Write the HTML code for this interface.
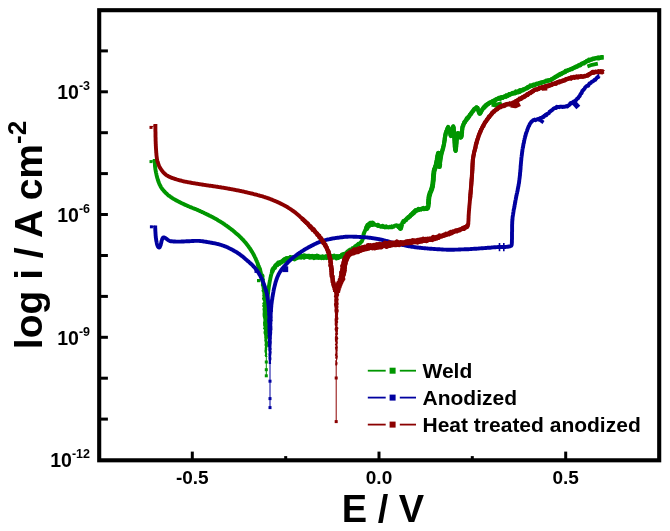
<!DOCTYPE html>
<html lang="en"><head><meta charset="utf-8"><title>Polarization curves</title>
<style>
html,body{margin:0;padding:0;background:#fff;}
body{width:670px;height:531px;overflow:hidden;}
svg{display:block;filter:blur(0.45px);font-family:"Liberation Sans",sans-serif;fill:#000;}
</style></head><body>
<svg width="670" height="531" viewBox="0 0 670 531">
<rect width="670" height="531" fill="#fff"/>
<g id="curves">
<path d="M151,161.6 L155,160" fill="none" stroke="#009600" stroke-width="1"/>
<rect x="149.5" y="160.1" width="3" height="3" fill="#009600"/>
<path d="M154.7,159.0 154.7,159.8 154.7,160.6 154.7,161.4 154.8,162.2 154.8,163.0 154.9,163.8 154.9,164.6 155.0,165.4 155.0,166.2 155.1,167.0 155.2,167.8 155.3,168.6 155.4,169.4 155.6,170.2 155.7,171.0 155.9,171.8 156.0,172.6 156.2,173.4 156.4,174.2 156.5,174.9 156.7,175.7 156.9,176.5 157.1,177.3 157.3,178.1 157.6,178.9 157.8,179.7 158.1,180.5 158.3,181.2 158.6,182.0 158.9,182.8 159.2,183.5 159.5,184.2 159.8,184.9 160.2,185.6 160.5,186.3 160.9,187.0 161.3,187.6 161.8,188.3 162.2,189.0 162.7,189.6 163.3,190.2 163.8,190.9 164.4,191.5 165.0,192.1 165.5,192.7 166.1,193.2 166.7,193.8 167.3,194.3 167.9,194.9 168.5,195.4 169.1,195.9 169.8,196.3 170.4,196.8 171.0,197.2 171.7,197.7 172.4,198.1 173.1,198.6 173.8,199.0 174.5,199.4 175.2,199.8 175.9,200.2 176.6,200.6 177.3,200.9 178.0,201.3 178.8,201.7 179.5,202.1 180.2,202.4 181.0,202.8 181.7,203.2 182.4,203.5 183.1,203.9 183.9,204.2 184.6,204.6 185.3,204.9 186.0,205.2 186.8,205.5 187.5,205.9 188.2,206.2 189.0,206.5 189.7,206.8 190.5,207.1 191.2,207.4 192.0,207.7 192.7,208.0 193.5,208.3 194.2,208.6 195.0,208.9 195.7,209.2 196.5,209.5 197.2,209.8 197.9,210.2 198.7,210.5 199.4,210.8 200.1,211.2 200.9,211.5 201.6,211.8 202.3,212.2 203.1,212.5 203.8,212.8 204.5,213.2 205.2,213.5 206.0,213.9 206.7,214.2 207.4,214.6 208.1,214.9 208.9,215.3 209.6,215.7 210.3,216.0 211.0,216.4 211.7,216.7 212.5,217.1 213.2,217.5 213.9,217.9 214.6,218.3 215.3,218.6 216.0,219.0 216.7,219.4 217.4,219.8 218.1,220.3 218.7,220.7 219.4,221.1 220.1,221.5 220.8,221.9 221.5,222.4 222.2,222.8 222.8,223.2 223.5,223.7 224.2,224.1 224.8,224.6 225.5,225.1 226.2,225.5 226.8,226.0 227.5,226.4 228.1,226.9 228.8,227.4 229.4,227.9 230.1,228.4 230.7,228.8 231.3,229.3 232.0,229.8 232.6,230.3 233.2,230.8 233.8,231.3 234.5,231.8 235.1,232.4 235.7,232.9 236.3,233.4 236.9,233.9 237.6,234.5 238.2,235.0 238.7,235.6 239.3,236.1 239.9,236.7 240.5,237.2 241.1,237.8 241.6,238.4 242.2,238.9 242.7,239.5 243.3,240.1 243.8,240.7 244.3,241.3 244.9,241.9 245.4,242.5 245.9,243.1 246.4,243.8 246.9,244.4 247.4,245.1 247.9,245.7 248.4,246.4 248.8,247.0 249.3,247.7 249.8,248.3 250.2,249.0 250.7,249.7 251.1,250.3 251.5,251.0 251.9,251.7 252.4,252.4 252.8,253.1 253.2,253.8 253.6,254.5 253.9,255.2 254.3,255.9 254.7,256.6 255.0,257.4 255.4,258.1 255.7,258.8 256.0,259.5 256.3,260.3 256.7,261.0 257.0,261.8 257.3,262.5 257.6,263.2 257.9,264.0 257.8,264.7 258.3,265.5 258.9,266.3 258.3,267.0 259.5,267.8 259.1,268.5 260.1,269.3 260.2,270.1 260.3,270.8 260.6,271.6 260.7,272.4 260.9,273.1 260.6,273.9 261.5,274.7 262.4,275.5 262.6,276.2 262.5,277.0 262.4,277.8 262.0,278.6 263.0,279.4 262.5,280.2 262.6,281.0 262.7,281.8 263.0,282.6 262.9,283.4 263.1,284.2 262.8,285.0 263.2,285.8 264.4,286.6 263.5,287.4 263.6,288.2 264.0,289.0 264.1,289.8 263.5,290.6 263.9,291.4 264.5,292.2 264.3,293.0 264.3,293.8 265.0,294.6 264.2,295.4 264.6,296.2 264.4,297.0 265.3,297.8 264.0,298.6 264.5,299.4 264.7,300.2 265.2,301.0 265.2,301.8 265.6,302.6 264.5,303.4 265.5,304.2 265.1,305.0" fill="none" stroke="#009600" stroke-width="3.9" stroke-linejoin="round" stroke-linecap="butt"/>
<path d="M267.0,305.0 267.0,304.4 267.1,303.8 267.1,303.2 267.2,302.6 267.2,302.0 267.2,301.4 267.3,300.8 267.3,300.2 267.4,299.6 267.4,299.0 267.5,298.4 267.6,297.8 267.6,297.2 267.7,296.6 267.7,296.0 267.8,295.4 267.9,294.8 267.9,294.2 268.0,293.6 268.1,293.0 268.1,292.4 268.2,291.8 268.3,291.2 268.3,290.6 268.4,290.0 268.5,289.4 268.6,288.9 268.7,288.3 268.7,287.7 268.8,287.1 268.9,286.5 269.0,285.9 269.1,285.3 269.2,284.7 269.3,284.1 269.4,283.5 269.5,282.9 269.6,282.3 269.7,281.7 269.8,281.1 269.9,280.5 270.0,280.0 270.2,279.4 270.3,278.8 270.4,278.2 270.5,277.6 270.7,277.0 270.8,276.4 270.9,275.8 271.1,275.2 271.2,274.6 271.4,274.1 271.5,273.5 271.7,272.9 271.9,272.3 272.1,271.8 272.3,271.2 272.5,270.7 272.8,270.1 273.0,269.6 273.4,269.1 273.7,268.5 274.0,268.0 274.4,267.5 274.7,267.1 275.1,266.6 275.5,266.2 275.9,265.7 276.3,265.3 276.8,265.1 277.3,264.3 277.7,263.5 278.2,263.5 278.7,262.7 279.2,263.1 279.7,263.7 280.2,262.1 280.7,261.7 281.3,262.2 281.8,261.8 282.3,261.4 282.9,260.4 283.4,260.7 284.0,261.0 284.5,259.3 285.1,259.7 285.7,258.5 286.2,258.7 286.8,258.1 287.4,259.1 287.9,258.2 288.5,259.2 289.1,259.0 289.7,258.6 290.3,256.9 290.9,258.1 291.5,258.4 292.1,258.4 292.7,257.2 293.3,257.8 293.9,257.4 294.5,257.4 295.0,258.6 295.6,257.2 296.2,257.6 296.8,258.2 297.4,257.0 298.0,257.2 298.6,257.3 299.2,257.1 299.8,256.1 300.4,256.9 301.0,257.7 301.6,255.6 302.2,257.2 302.8,256.6 303.4,256.0 304.0,257.8 304.6,256.9 305.2,255.6 305.8,256.5 306.4,256.8 307.0,256.3 307.6,256.9 308.2,256.4 308.8,256.9 309.4,257.5 310.0,256.1 310.6,256.7 311.2,256.3 311.8,256.7 312.4,255.8 313.0,256.3 313.6,256.6 314.2,257.4 314.8,257.6 315.4,255.9 316.0,256.3 316.6,257.4 317.2,255.5 317.8,256.6 318.4,256.9 319.0,257.9 319.6,257.5 320.2,256.8 320.8,256.7 321.4,256.8 322.0,258.1 322.6,256.7 323.2,256.8 323.8,257.2 324.4,256.9 325.0,256.9 325.6,256.2 326.2,257.0 326.8,256.7 327.4,257.8 328.0,257.5 328.6,257.0 329.2,257.5 329.8,256.8 330.4,257.7 331.0,257.0 331.6,257.4 332.2,256.1 332.8,257.2 333.4,255.8 334.0,255.6 334.6,256.8 335.2,256.4 335.8,257.1 336.4,258.6 337.0,256.4 337.6,256.4 338.2,256.9 338.8,257.0 339.4,256.3 340.0,256.2 340.5,256.6 341.1,256.3 341.6,255.1 342.2,255.5 342.7,255.3 343.2,254.2 343.8,254.9 344.3,253.7 344.8,254.7 345.3,253.7 345.8,253.3 346.3,252.7 346.8,252.6 347.3,251.4 347.8,251.5 348.3,251.8 348.8,250.4 349.3,251.4 349.8,249.8 350.3,250.6 350.8,249.6 351.3,249.9 351.8,249.3 352.3,248.2 352.7,249.1 353.2,248.8 353.7,247.8 354.2,247.3 354.7,247.0 355.1,246.3 355.6,246.8 356.1,245.7 356.6,245.6 357.1,244.9 357.6,244.6 358.2,243.9 358.7,244.7 359.2,243.7 359.7,243.8 360.2,243.0 360.7,242.3 361.1,242.1 361.5,241.5 361.8,241.4 362.1,240.7 362.3,240.3 362.4,239.3 362.6,239.0 362.7,239.5 362.9,237.9 363.0,237.1 363.1,237.1 363.2,237.0 363.3,235.1 363.5,235.0 363.6,234.2 363.8,233.1 364.0,233.7 364.2,232.8 364.4,232.2 364.6,231.3 364.9,231.3 365.1,230.3 365.4,229.9 365.7,229.0 366.0,228.4 366.4,229.1 366.7,227.8 367.0,227.6 367.4,226.9 367.8,226.2 368.2,225.6 368.6,225.5 369.1,224.6 369.5,224.3 370.0,224.0 370.4,224.3 370.9,223.9 371.4,223.8 371.9,223.4 372.5,223.1 373.0,224.3 373.6,224.4 374.2,224.1 374.8,224.5 375.4,224.8 376.0,225.0 376.6,225.3 377.2,224.9 377.8,225.9 378.4,224.9 379.0,226.0 379.6,226.0 380.2,226.3 380.8,226.9 381.4,226.8 382.0,225.8 382.6,225.7 383.2,227.0 383.8,226.3 384.4,226.9 384.9,227.4 385.5,226.4 386.1,226.3 386.7,227.4 387.3,227.4 387.9,227.3 388.5,227.5 389.1,227.1 389.7,226.8 390.3,227.3 390.9,226.9 391.5,226.4 392.1,227.2 392.8,226.8 393.4,226.8 394.0,225.9 394.6,225.9 395.2,225.5 395.7,225.4 396.3,225.8 396.8,225.2 397.3,225.7 397.8,225.7 398.3,226.8 398.8,225.8 399.2,227.4 399.6,227.6 400.0,228.0 400.3,227.5 400.6,227.8 400.8,227.8 401.0,226.7 401.1,226.1 401.4,225.2 401.6,225.3 401.9,224.3 402.2,222.8 402.6,223.0 402.9,222.0 403.3,220.9 403.7,221.7 404.1,222.1 404.5,221.1 405.0,220.1 405.4,219.8 405.9,220.3 406.3,219.4 406.8,219.0 407.3,218.5 407.7,218.1 408.2,218.1 408.6,217.6 409.0,217.0 409.5,216.0 409.9,216.3 410.4,215.3 410.8,215.7 411.3,214.2 411.7,214.3 412.2,213.9 412.7,212.9 413.1,213.9 413.6,213.4 414.1,212.1 414.6,212.3 415.1,211.7 415.6,210.0 416.1,211.0 416.6,210.5 417.1,210.3 417.6,209.5 418.1,209.7 418.6,209.5 419.2,209.9 419.7,209.4 420.4,209.1 421.1,209.6 421.8,208.6 422.5,208.6 423.3,207.8 424.0,209.3 424.8,208.9 425.4,208.8 426.1,208.6 426.6,208.2 427.1,208.2 427.5,207.8 427.8,207.7 428.0,207.6 428.1,208.0 428.2,207.3 428.3,206.6 428.3,205.9 428.4,205.4 428.4,205.8 428.5,204.7 428.5,203.8 428.5,202.9 428.6,201.9 428.6,201.6 428.7,201.3 428.7,200.0 428.7,199.4 428.8,198.7 428.9,198.1 428.9,196.7 429.0,196.7 429.1,195.9 429.2,196.1 429.4,194.7 429.6,194.8 429.8,194.6 430.0,193.2 430.2,192.5 430.4,192.3 430.6,191.7 430.9,190.7 431.1,190.8 431.3,190.9 431.5,189.3 431.8,188.8 431.9,187.8 432.1,187.8 432.3,186.6 432.4,186.1 432.5,186.5 432.6,185.0 432.7,185.3 432.8,184.9 432.9,183.7 432.9,183.3 433.0,183.3 433.0,181.7 433.1,180.9 433.2,180.0 433.2,180.0 433.3,180.1 433.3,179.2 433.3,177.8 433.4,177.2 433.4,176.7 433.5,176.5 433.5,175.7 433.6,175.3 433.7,174.7 433.7,173.8 433.8,173.3 433.9,172.9 433.9,172.1 434.0,171.8 434.1,171.8 434.2,170.7 434.3,169.9 434.5,168.5 434.7,168.9 434.9,167.3 435.2,167.0 435.4,167.4 435.6,166.8 435.8,165.8 436.0,164.5 436.2,164.5 436.3,163.6 436.5,163.5 436.6,163.5 436.8,161.8 436.9,160.6 437.1,159.6 437.2,159.3 437.3,158.5 437.5,157.3 437.6,157.2 437.7,155.9 437.8,156.3 438.0,155.7 438.1,155.2 438.2,154.1 438.2,154.2 438.3,153.6 438.4,153.3 438.5,153.3 438.5,152.9 438.6,153.0 438.7,154.3 438.7,154.4 438.7,155.1 438.8,156.1 438.8,155.7 438.9,156.9 438.9,158.2 438.9,159.2 439.0,159.7 439.0,161.2 439.0,161.7 439.1,161.9 439.1,162.9 439.1,164.4 439.2,164.8 439.2,164.3 439.3,166.2 439.3,166.1 439.4,166.6 439.4,165.8 439.5,165.7 439.6,165.0 439.7,166.3 439.7,164.6 439.8,164.8 439.9,163.2 440.0,162.8 440.1,161.3 440.2,161.1 440.3,160.9 440.4,159.1 440.5,159.4 440.6,158.3 440.8,156.9 440.9,156.5 441.0,155.9 441.1,155.5 441.2,154.7 441.4,154.0 441.5,153.6 441.6,152.7 441.8,152.0 442.0,152.0 442.1,151.8 442.3,150.2 442.4,150.3 442.6,149.4 442.8,148.7 442.9,148.9 443.1,147.7 443.2,148.0 443.4,146.4 443.5,146.4 443.7,145.5 443.8,144.7 443.9,144.7 444.0,143.8 444.1,143.5 444.2,142.6 444.3,141.6 444.4,141.4 444.5,140.9 444.6,140.7 444.7,139.3 444.7,139.0 444.8,137.7 444.9,138.2 445.0,136.8 445.1,135.9 445.2,136.1 445.3,136.0 445.4,134.2 445.5,133.9 445.7,133.4 445.8,132.7 446.0,132.7 446.3,131.4 446.5,130.7 446.8,130.6 447.0,129.3 447.3,129.2 447.6,128.0 447.8,127.4 448.1,126.8 448.3,128.4 448.5,127.4 448.7,127.9 448.9,128.2 449.1,128.9 449.3,129.6 449.5,131.2 449.7,130.7 449.9,131.3 450.1,132.4 450.3,133.0 450.4,134.7 450.6,135.3 450.8,134.9 450.9,134.9 451.1,135.3 451.3,135.8 451.4,133.5 451.6,134.4 451.8,133.0 452.0,133.2 452.1,131.4 452.3,130.9 452.4,129.4 452.6,128.9 452.7,129.2 452.9,128.3 453.0,127.2 453.1,126.7 453.2,126.1 453.3,126.8 453.4,127.0 453.4,127.2 453.5,127.5 453.6,127.4 453.7,128.3 453.7,128.8 453.8,129.9 453.9,130.7 453.9,130.5 454.0,130.9 454.0,131.9 454.1,132.5 454.1,133.2 454.2,134.3 454.2,134.7 454.3,136.3 454.3,136.9 454.4,138.0 454.4,138.7 454.5,139.3 454.5,140.1 454.6,141.3 454.6,142.0 454.7,143.2 454.7,144.0 454.8,144.2 454.8,145.6 454.8,145.7 454.9,146.7 454.9,147.5 455.0,147.3 455.1,148.8 455.1,149.4 455.2,149.7 455.2,149.9 455.3,150.2 455.4,150.2 455.4,150.6 455.5,150.6 455.6,150.8 455.6,150.0 455.7,150.4 455.8,150.0 455.8,149.4 455.9,148.7 456.0,148.6 456.0,146.9 456.1,147.1 456.2,146.2 456.2,145.4 456.3,144.6 456.4,143.3 456.5,142.6 456.5,142.1 456.6,141.1 456.7,140.1 456.8,138.5 456.9,138.6 457.0,138.1 457.1,137.3 457.2,136.3 457.3,134.9 457.5,135.4 457.6,134.5 457.7,133.0 457.9,134.1 458.1,133.1 458.2,133.1 458.5,133.6 458.8,135.0 459.3,134.9 459.7,135.9 460.1,137.2 460.5,137.7 460.8,137.2 461.0,137.2 461.1,136.6 461.3,136.6 461.4,136.7 461.5,136.2 461.6,135.6 461.7,135.3 461.7,133.9 461.8,133.5 461.9,133.1 462.0,132.2 462.0,131.7 462.1,130.6 462.2,129.5 462.3,129.0 462.4,127.7 462.5,126.7 462.6,127.1 462.8,126.3 463.0,125.9 463.2,124.4 463.4,124.5 463.7,123.9 463.9,123.2 464.2,122.0 464.6,122.4 464.9,122.4 465.2,121.7 465.6,120.7 465.9,120.5 466.3,120.3 466.6,118.2 467.0,118.9 467.4,118.7 467.7,118.3 468.1,118.3 468.4,117.5 468.8,116.6 469.2,116.1 469.6,115.7 470.0,114.6 470.4,114.2 470.9,114.0 471.3,113.9 471.7,112.4 472.2,111.9 472.6,111.4 473.1,111.4 473.5,110.3 473.9,110.5 474.4,108.9 474.8,108.9 475.2,108.6 475.6,108.7 476.0,108.6 476.3,107.3 476.7,107.4 477.0,108.0 477.3,107.7 477.6,107.7 477.9,109.4 478.1,109.9 478.4,110.7 478.6,111.1 478.9,112.5 479.2,112.5 479.4,113.5 479.7,112.7 480.0,112.6 480.4,112.9 480.7,112.1 481.0,112.2 481.3,111.5 481.7,110.4 482.0,110.2 482.4,109.4 482.8,109.3 483.2,108.0 483.5,107.5 483.9,107.7 484.4,107.8 484.8,107.3 485.3,106.0 485.7,105.7 486.2,105.9 486.7,104.9 487.2,104.1 487.7,104.3 488.2,104.1 488.8,103.2 489.3,102.5 489.8,102.3 490.3,102.9 490.8,102.0 491.3,102.0 491.9,101.8 492.4,101.7 492.9,101.0 493.5,101.1 494.0,100.2 494.5,100.2 495.1,99.6 495.6,100.4 496.2,99.6 496.7,99.0 497.3,99.0 497.8,98.8 498.4,99.0 498.9,97.7 499.5,97.8 500.0,97.8 500.6,98.9 501.2,98.0 501.7,97.3 502.3,97.5 502.9,97.9 503.4,96.7 504.0,96.4 504.6,96.9 505.1,96.4 505.7,96.3 506.3,95.6 506.8,96.4 507.4,96.2 508.0,95.4 508.6,95.3 509.1,93.9 509.7,94.9 510.3,94.3 510.8,94.4 511.4,94.3 512.0,93.6 512.5,92.8 513.1,93.5 513.7,92.9 514.2,92.8 514.8,92.5 515.4,92.5 515.9,91.4 516.5,92.8 517.1,92.1 517.6,92.3 518.2,92.5 518.8,91.4 519.3,90.4 519.9,90.6 520.5,90.8 521.0,90.6 521.6,90.4 522.1,90.2 522.7,89.9 523.2,89.7 523.8,89.4 524.3,89.2 524.9,88.9 525.4,88.7 526.0,88.4 526.5,88.2 527.1,87.9 527.6,87.6 528.1,87.4 528.7,87.1 529.2,86.8 529.8,86.6 530.3,86.3 530.9,86.1 531.4,85.8 532.0,85.6 532.5,85.4 533.1,85.1 533.6,84.9 534.2,84.7 534.8,84.5 535.3,84.3 535.9,84.2 536.5,84.0 537.0,83.8 537.6,83.6 538.2,83.5 538.8,83.3 539.3,83.1 539.9,83.0 540.5,82.8 541.1,82.6 541.7,82.5 542.3,82.3 542.8,82.2 543.4,82.0 544.0,81.8 544.6,81.6 545.1,81.5 545.7,81.3 546.3,81.1 546.9,80.9 547.4,80.8 548.0,80.6 548.6,80.4 549.2,80.2 549.7,80.0 550.3,79.8 550.8,79.6 551.4,79.3 551.9,79.1 552.4,78.8 553.0,78.5 553.5,78.3 554.0,78.0 554.6,77.7 555.1,77.4 555.6,77.1 556.1,76.8 556.6,76.5 557.2,76.1 557.7,75.8 558.2,75.5 558.7,75.2 559.2,74.9 559.8,74.6 560.3,74.3 560.8,74.0 561.3,73.7 561.9,73.4 562.4,73.1 562.9,72.8 563.5,72.6 564.0,72.3 564.5,72.1 565.1,71.8 565.6,71.5 566.2,71.3 566.7,71.0 567.3,70.8 567.8,70.5 568.4,70.3 568.9,70.1 569.5,69.8 570.0,69.6 570.6,69.3 571.1,69.1 571.7,68.8 572.2,68.6 572.8,68.4 573.3,68.1 573.9,67.9 574.4,67.6 575.0,67.4 575.5,67.1 576.0,66.9 576.6,66.6 577.1,66.3 577.7,66.1 578.2,65.8 578.7,65.5 579.3,65.2 579.8,65.0 580.3,64.7 580.9,64.4 581.4,64.1 581.9,63.8 582.5,63.5 583.0,63.2 583.5,63.0 584.1,62.7 584.6,62.4 585.1,62.1 585.7,61.9 586.2,61.6 586.8,61.3 587.3,61.1 587.8,60.9 588.4,60.6 588.9,60.4 589.5,60.2 590.1,60.0 590.6,59.8 591.2,59.6 591.8,59.4 592.3,59.2 592.9,59.0 593.5,58.8 594.1,58.6 594.7,58.5 595.2,58.4 595.8,58.2 596.4,58.2 597.0,58.1 597.6,58.0 598.2,57.9 598.8,57.8 599.4,57.8 600.0,57.7 600.6,57.6 601.2,57.6 601.8,57.6 602.4,57.5 603.0,57.5 603.6,57.5" fill="none" stroke="#009600" stroke-width="3.9" stroke-linejoin="round" stroke-linecap="butt"/>
<path d="M272.1,271.5 272.3,271.4 272.5,270.3 272.8,269.3 273.0,269.5 273.4,268.5 273.7,268.3 274.0,268.2 274.4,267.7 274.7,267.7 275.1,266.5 275.5,265.6 275.9,265.4 276.3,265.0 276.8,264.4 277.3,264.7 277.7,263.9 278.2,263.0 278.7,263.7 279.2,263.1 279.7,262.9 280.2,262.5 280.7,262.4 281.3,261.9 281.8,262.1 282.3,261.5 282.9,261.2 283.4,260.9 284.0,259.9 284.5,260.2 285.1,259.9 285.7,259.9 286.2,259.0 286.8,260.1 287.4,259.3 287.9,258.6 288.5,258.3 289.1,258.7 289.7,258.7 290.3,258.3 290.9,258.6 291.5,258.2 292.1,258.5 292.7,257.9 293.3,258.1 293.9,258.4 294.5,259.0 295.0,257.5 295.6,257.6 296.2,257.3 296.8,257.9 297.4,257.0 298.0,257.1 298.6,257.2 299.2,256.7 299.8,256.6 300.4,256.7 301.0,255.9 301.6,256.1 302.2,256.4 302.8,256.6 303.4,256.4 304.0,255.7 304.6,256.2 305.2,256.7 305.8,256.6 306.4,256.4 307.0,256.1 307.6,256.7 308.2,256.2 308.8,256.0 309.4,256.2 310.0,257.1 310.6,256.7 311.2,257.1 311.8,256.4 312.4,257.0 313.0,256.5 313.6,256.7 314.2,257.8 314.8,257.1 315.4,256.6 316.0,256.8 316.6,257.0 317.2,257.4 317.8,256.8 318.4,256.3 319.0,256.9 319.6,257.0 320.2,257.0 320.8,257.5 321.4,257.1 322.0,257.3 322.6,256.6 323.2,257.3 323.8,257.8 324.4,257.3 325.0,257.1 325.6,257.1 326.2,257.7 326.8,256.6 327.4,257.0 328.0,257.2 328.6,257.3 329.2,256.8 329.8,257.1 330.4,256.9 331.0,257.0 331.6,256.9 332.2,256.5 332.8,257.0 333.4,257.4 334.0,256.6 334.6,256.9 335.2,257.3 335.8,256.6 336.4,257.1 337.0,256.5 337.6,257.3 338.2,257.7 338.8,257.4 339.4,256.4 340.0,256.6 340.5,256.2 341.1,256.0 341.6,256.4 342.2,255.0 342.7,255.7 343.2,255.0 343.8,255.2 344.3,254.4 344.8,253.7" fill="none" stroke="#009600" stroke-width="4.6" stroke-linejoin="round" stroke-linecap="butt"/>
<path d="M366.0,229.0 366.4,228.7 366.7,228.0 367.0,227.6 367.4,226.8 367.8,225.7 368.2,226.1 368.6,225.5 369.1,224.8 369.5,224.3 370.0,224.3 370.4,223.6 370.9,223.4 371.4,223.6 371.9,224.0 372.5,223.3 373.0,224.2 373.6,223.8" fill="none" stroke="#009600" stroke-width="5.5" stroke-linejoin="round" stroke-linecap="butt"/>
<path d="M398.3,225.5 398.8,226.8 399.2,227.0 399.6,227.2 400.0,227.9 400.3,228.5 400.6,228.3 400.8,227.3 401.0,226.9 401.1,226.2 401.4,225.1 401.6,224.9 401.9,224.3" fill="none" stroke="#009600" stroke-width="5.0" stroke-linejoin="round" stroke-linecap="butt"/>
<path d="M428.5,204.3 428.5,203.6 428.5,203.1 428.6,202.4 428.6,201.5 428.7,200.8 428.7,200.5 428.7,199.5 428.8,199.0 428.9,198.4 428.9,197.6 429.0,197.5 429.1,196.0 429.2,195.9 429.4,195.0 429.6,195.1 429.8,194.5 430.0,192.8 430.2,192.5 430.4,192.4 430.6,191.9 430.9,191.3 431.1,190.5 431.3,190.1 431.5,189.6 431.8,188.8 431.9,188.6 432.1,187.0 432.3,187.3 432.4,186.2 432.5,186.3 432.6,185.3 432.7,184.5 432.8,184.3 432.9,183.3 432.9,182.7 433.0,181.9 433.0,181.8 433.1,181.4 433.2,180.9 433.2,180.0 433.3,179.7 433.3,178.8 433.3,178.2 433.4,177.7 433.4,177.3 433.5,176.3 433.5,175.7 433.6,175.1 433.7,174.6 433.7,173.7 433.8,173.7 433.9,172.6 433.9,172.3 434.0,171.3 434.1,171.1 434.2,170.5 434.3,169.7 434.5,169.9 434.7,168.8 434.9,168.7 435.2,167.9 435.4,166.8 435.6,166.4 435.8,166.0 436.0,165.3 436.2,164.7 436.3,163.9 436.5,162.7 436.6,162.4 436.8,161.0 436.9,161.0 437.1,159.9 437.2,159.1 437.3,158.5 437.5,157.9 437.6,156.7 437.7,155.9 437.8,155.5 438.0,154.7 438.1,154.5 438.2,154.8 438.2,153.6 438.3,153.9 438.4,153.1 438.5,153.5 438.5,153.3 438.6,153.6 438.7,154.1 438.7,155.0 438.7,155.1 438.8,155.7 438.8,156.1 438.9,157.4 438.9,158.0 438.9,159.2 439.0,159.9 439.0,161.3 439.0,161.1 439.1,162.4 439.1,163.5 439.1,163.9 439.2,164.4 439.2,165.1 439.3,165.2 439.3,165.9 439.4,166.7 439.4,166.3 439.5,165.5 439.6,165.3 439.7,165.0 439.7,165.0 439.8,163.9 439.9,163.3" fill="none" stroke="#009600" stroke-width="4.8" stroke-linejoin="round" stroke-linecap="butt"/>
<path d="M405.4,220.5 405.9,220.0 406.3,219.2 406.8,218.6 407.3,218.1 407.7,217.9 408.2,217.1 408.6,217.5 409.0,216.7 409.5,216.6 409.9,216.6 410.4,216.0 410.8,214.9 411.3,215.0 411.7,214.7 412.2,213.7 412.7,213.2 413.1,213.1 413.6,212.2 414.1,212.8 414.6,211.2 415.1,211.2 415.6,211.1 416.1,210.8 416.6,210.6 417.1,210.4 417.6,210.0 418.1,210.1 418.6,208.9 419.2,209.4 419.7,209.0 420.4,209.1 421.1,209.0 421.8,208.6 422.5,208.6 423.3,208.9 424.0,208.7 424.8,208.3 425.4,209.0 426.1,209.0 426.6,207.8 427.1,208.2 427.5,208.7 427.8,208.0 428.0,207.7 428.1,207.3 428.2,206.9 428.3,206.6 428.3,206.0 428.4,205.9 428.4,204.9 428.5,204.3 428.5,203.4 428.5,203.1 428.6,202.1 428.6,201.6 428.7,201.2 428.7,200.3 428.7,199.6 428.8,198.9 428.9,198.1 428.9,197.4 429.0,196.7 429.1,196.5 429.2,195.3 429.4,195.5 429.6,194.5 429.8,193.7 430.0,193.2 430.2,192.6 430.4,192.3 430.6,191.5 430.9,191.5 431.1,190.3 431.3,189.3 431.5,189.2 431.8,188.2 431.9,188.3 432.1,188.0 432.3,187.3 432.4,186.1 432.5,185.7 432.6,185.9 432.7,184.9 432.8,184.2 432.9,183.9 432.9,183.7 433.0,182.8 433.0,181.8 433.1,181.3 433.2,180.8 433.2,179.8 433.3,179.1 433.3,178.8 433.3,177.9 433.4,177.6 433.4,177.0 433.5,177.1 433.5,175.5 433.6,175.1 433.7,174.5 433.7,174.1 433.8,173.7 433.9,172.6 433.9,171.9 434.0,171.1 434.1,170.7 434.2,170.6 434.3,169.9 434.5,169.0 434.7,168.6 434.9,168.2 435.2,167.8 435.4,166.9 435.6,166.4 435.8,165.4 436.0,165.0 436.2,165.1 436.3,163.3 436.5,163.1 436.6,162.5 436.8,161.6 436.9,160.7 437.1,160.1 437.2,159.3 437.3,158.6 437.5,157.3 437.6,157.1 437.7,156.2 437.8,155.7 438.0,155.3 438.1,154.9 438.2,154.6 438.2,153.8 438.3,154.0 438.4,153.8 438.5,153.7 438.5,153.9 438.6,153.6 438.7,153.9 438.7,154.7 438.7,154.6 438.8,155.7 438.8,156.3 438.9,157.1 438.9,157.6 438.9,158.7 439.0,159.9 439.0,161.0 439.0,161.9 439.1,162.5 439.1,163.2 439.1,163.7 439.2,164.8 439.2,165.1 439.3,165.8 439.3,166.4 439.4,166.0 439.4,165.5 439.5,165.5 439.6,165.1 439.7,164.8 439.7,165.1 439.8,164.2 439.9,163.0 440.0,163.0 440.1,162.4 440.2,161.2 440.3,160.3 440.4,159.6 440.5,159.0 440.6,158.3 440.8,157.8 440.9,157.1 441.0,156.5 441.1,155.9 441.2,155.1 441.4,153.9 441.5,153.7 441.6,153.3 441.8,152.5 442.0,152.3 442.1,151.3 442.3,150.6 442.4,150.7 442.6,149.9 442.8,149.2 442.9,148.8 443.1,148.3 443.2,147.5 443.4,146.0 443.5,146.0 443.7,145.5 443.8,144.7 443.9,144.5 444.0,144.2 444.1,143.1 444.2,142.3 444.3,142.7 444.4,141.3 444.5,140.5 444.6,140.3 444.7,139.8 444.7,138.9 444.8,138.7 444.9,137.7 445.0,137.0 445.1,136.7 445.2,136.3 445.3,135.3 445.4,135.0 445.5,134.3 445.7,134.6 445.8,133.0 446.0,132.9 446.3,131.8 446.5,131.0 446.8,130.5 447.0,129.9 447.3,129.4 447.6,128.5 447.8,127.8 448.1,127.5 448.3,127.7 448.5,127.7 448.7,128.2 448.9,128.4 449.1,129.2 449.3,130.0 449.5,130.4 449.7,130.7 449.9,131.7 450.1,132.4 450.3,134.1 450.4,134.1 450.6,135.3 450.8,135.5 450.9,136.0 451.1,135.8 451.3,135.2 451.4,134.7 451.6,134.2 451.8,133.5 452.0,132.5 452.1,131.8 452.3,131.5 452.4,129.6 452.6,129.4 452.7,128.3 452.9,128.0 453.0,127.6 453.1,127.0 453.2,127.1 453.3,126.5 453.4,127.4 453.4,127.1 453.5,127.7 453.6,127.9 453.7,127.5 453.7,128.5 453.8,129.4 453.9,130.4 453.9,130.6 454.0,131.3 454.0,131.5 454.1,133.2 454.1,134.1 454.2,134.4 454.2,135.1 454.3,135.6 454.3,137.2 454.4,138.7 454.4,139.0 454.5,140.0 454.5,140.7 454.6,141.1 454.6,142.7 454.7,142.8 454.7,143.9 454.8,144.9 454.8,145.8 454.8,146.4 454.9,147.1 454.9,147.4 455.0,147.9 455.1,148.8 455.1,149.1 455.2,149.3 455.2,149.7 455.3,150.2 455.4,150.1 455.4,150.3 455.5,150.3 455.6,150.8 455.6,150.7 455.7,150.9 455.8,149.5 455.8,149.3 455.9,149.2 456.0,148.3 456.0,147.5 456.1,147.4 456.2,146.0 456.2,145.0 456.3,144.1 456.4,143.7 456.5,142.8 456.5,141.4 456.6,140.6 456.7,140.2 456.8,139.4 456.9,138.2 457.0,137.8 457.1,137.0 457.2,135.6 457.3,135.5 457.5,135.1 457.6,134.4 457.7,133.5 457.9,133.8 458.1,134.0 458.2,134.2 458.5,133.3 458.8,135.2 459.3,134.7 459.7,136.0 460.1,136.8 460.5,137.3 460.8,137.3 461.0,136.9 461.1,137.3 461.3,136.7 461.4,135.8 461.5,136.9 461.6,135.7 461.7,135.4 461.7,134.0 461.8,134.0 461.9,133.2 462.0,132.4 462.0,131.2 462.1,130.0 462.2,129.6 462.3,128.2 462.4,127.6 462.5,127.5 462.6,126.6 462.8,126.2 463.0,125.7 463.2,125.8 463.4,125.1 463.7,124.1 463.9,124.0 464.2,122.8 464.6,122.4 464.9,122.3 465.2,121.1 465.6,120.9 465.9,120.1 466.3,120.0 466.6,120.0 467.0,118.8 467.4,118.6 467.7,117.7 468.1,117.2 468.4,116.6 468.8,116.9 469.2,116.7 469.6,115.5 470.0,114.6 470.4,114.4 470.9,113.5 471.3,113.3 471.7,112.5 472.2,112.0 472.6,111.5 473.1,110.6 473.5,110.2 473.9,109.3 474.4,109.3 474.8,108.6 475.2,108.6 475.6,108.1 476.0,108.1 476.3,108.1 476.7,107.4 477.0,107.6 477.3,107.7 477.6,108.6 477.9,109.5 478.1,110.0 478.4,110.4 478.6,111.7 478.9,111.6 479.2,113.1 479.4,112.8 479.7,112.3 480.0,113.8 480.4,113.2 480.7,112.1 481.0,112.0 481.3,111.3 481.7,110.8 482.0,109.7 482.4,109.3 482.8,109.0 483.2,108.3 483.5,108.0 483.9,107.2 484.4,107.5 484.8,106.1 485.3,106.0 485.7,105.0 486.2,104.9 486.7,105.3 487.2,104.3 487.7,104.4 488.2,103.9 488.8,103.3 489.3,103.2 489.8,102.8 490.3,102.5 490.8,102.6 491.3,102.2 491.9,101.6 492.4,101.2 492.9,101.3 493.5,100.9 494.0,100.9 494.5,101.2 495.1,100.4 495.6,99.8 496.2,99.5 496.7,99.1 497.3,98.9 497.8,98.6 498.4,98.5 498.9,98.3 499.5,98.4 500.0,97.9 500.6,97.7 501.2,97.2 501.7,97.9 502.3,97.3 502.9,97.5 503.4,97.0 504.0,97.0 504.6,96.3 505.1,96.4 505.7,96.8 506.3,95.4 506.8,95.9 507.4,95.9 508.0,95.3 508.6,95.2 509.1,95.2 509.7,94.4 510.3,94.5 510.8,93.9 511.4,93.8 512.0,93.6 512.5,93.5 513.1,93.4 513.7,93.3 514.2,92.6 514.8,93.4 515.4,93.0 515.9,92.6 516.5,92.1 517.1,92.0 517.6,92.0 518.2,91.8 518.8,90.9 519.3,91.5 519.9,91.9 520.5,90.2 521.0,90.9 521.6,90.5 522.1,90.1 522.7,90.4 523.2,89.3 523.8,89.5 524.3,89.6 524.9,88.9 525.4,88.6 526.0,88.5 526.5,88.0 527.1,88.4 527.6,87.3 528.1,87.6 528.7,86.7 529.2,87.0 529.8,86.5 530.3,85.5 530.9,86.1 531.4,85.5 532.0,85.4 532.5,85.8 533.1,84.8 533.6,84.6 534.2,85.2 534.8,84.6 535.3,84.8 535.9,84.3 536.5,83.7 537.0,83.8 537.6,84.0 538.2,83.8 538.8,83.3 539.3,83.1 539.9,82.9 540.5,82.6 541.1,83.2 541.7,82.5 542.3,82.0 542.8,82.0 543.4,82.2 544.0,82.0 544.6,81.6 545.1,81.3 545.7,81.3 546.3,80.6 546.9,80.5 547.4,81.0 548.0,80.4 548.6,80.5 549.2,80.6 549.7,80.2 550.3,79.8 550.8,80.2 551.4,79.5 551.9,79.0 552.4,79.0 553.0,78.7 553.5,78.0 554.0,78.0 554.6,77.6 555.1,76.8 555.6,77.0 556.1,76.7 556.6,76.3 557.2,75.6 557.7,75.7 558.2,75.5 558.7,75.2 559.2,74.5 559.8,74.8 560.3,73.9 560.8,73.9 561.3,74.1 561.9,73.2 562.4,73.0 562.9,73.2 563.5,72.5 564.0,72.2 564.5,72.1 565.1,72.1 565.6,70.9 566.2,71.0 566.7,70.7 567.3,70.5 567.8,70.3 568.4,70.0 568.9,70.1 569.5,69.5 570.0,69.6 570.6,69.5 571.1,68.9 571.7,68.9 572.2,69.1 572.8,68.5 573.3,67.9 573.9,67.9 574.4,67.3 575.0,67.5 575.5,67.4 576.0,66.6 576.6,66.5 577.1,66.7 577.7,65.9 578.2,65.9 578.7,65.2 579.3,65.0 579.8,64.8 580.3,65.3 580.9,64.3 581.4,63.9 581.9,63.6 582.5,63.5 583.0,63.4 583.5,63.0 584.1,63.3 584.6,62.5 585.1,62.6 585.7,61.9 586.2,61.8 586.8,60.9 587.3,61.1 587.8,60.8 588.4,60.6 588.9,59.8 589.5,60.5 590.1,59.9 590.6,59.6 591.2,59.5 591.8,59.3 592.3,59.3 592.9,58.6 593.5,58.5 594.1,58.7 594.7,58.5 595.2,58.2 595.8,58.1 596.4,57.9 597.0,58.1 597.6,58.3 598.2,57.6 598.8,58.3 599.4,58.0 600.0,57.6 600.6,57.9 601.2,57.2 601.8,57.0 602.4,57.1 603.0,57.4 603.6,57.4" fill="none" stroke="#009600" stroke-width="4.2" stroke-linejoin="round" stroke-linecap="butt"/>
<path d="M589.2,65.8 592.0,64.8 596.0,64.0" fill="none" stroke="#009600" stroke-width="3.8" stroke-linejoin="round" stroke-linecap="square"/>
<path d="M494.2,104.6 497.0,105.2 499.6,104.4" fill="none" stroke="#009600" stroke-width="5.0" stroke-linejoin="round" stroke-linecap="square"/>
<path d="M262.5,303.0 262.8,304.5 262.0,306.0 263.0,307.5 262.4,309.0 262.7,310.5 262.8,312.0 262.6,313.5 262.6,315.0 262.7,316.5 263.1,318.0 263.4,319.5 263.4,321.0 263.0,322.5 263.1,324.0 263.1,325.5 263.7,327.0 262.9,328.5 264.1,330.0 263.6,331.5 263.5,333.0 264.0,334.5 264.3,336.0 264.2,337.5 264.5,339.0 264.2,340.5 264.7,342.0 264.8,343.5 264.4,345.0 265.0,346.5 264.7,348.0 264.7,349.5 264.4,351.0 264.7,352.5 265.2,354.0 264.6,355.5 265.3,357.0 267.7,357.0 266.8,355.5 267.4,354.0 266.7,352.5 266.8,351.0 267.3,349.5 267.1,348.0 267.9,346.5 267.9,345.0 268.0,343.5 268.1,342.0 267.2,340.5 267.6,339.0 268.6,337.5 268.5,336.0 267.8,334.5 268.1,333.0 268.0,331.5 268.0,330.0 269.2,328.5 268.3,327.0 268.2,325.5 268.9,324.0 268.6,322.5 269.0,321.0 268.2,319.5 269.2,318.0 268.7,316.5 269.2,315.0 268.2,313.5 269.1,312.0 268.8,310.5 269.4,309.0 269.1,307.5 268.4,306.0 269.4,304.5 269.4,303.0Z" fill="#009600" stroke="none"/>
<path d="M266.3,350 L266.3,375.8" fill="none" stroke="#009600" stroke-width="1"/>
<rect x="264.8" y="360.5" width="3" height="3" fill="#009600"/>
<rect x="264.8" y="368.2" width="3" height="3" fill="#009600"/>
<rect x="264.8" y="374.3" width="3" height="3" fill="#009600"/>
<rect x="257.0" y="279.0" width="3.2" height="3.2" fill="#009600"/>
<path d="M151.4,226.8 L155.2,226" fill="none" stroke="#0000a0" stroke-width="1"/>
<rect x="149.9" y="225.3" width="3" height="3" fill="#0000a0"/>
<path d="M155.2,225.5 155.2,226.3 155.2,227.1 155.2,227.9 155.3,228.7 155.3,229.5 155.3,230.3 155.4,231.2 155.4,232.0 155.5,232.8 155.5,233.6 155.6,234.4 155.6,235.2 155.7,236.0 155.8,236.8 155.8,237.6 156.0,238.4 156.1,239.2 156.2,240.0 156.3,240.8 156.5,241.6 156.7,242.4 156.8,243.1 157.0,244.0 157.2,244.8 157.5,245.6 157.8,246.4 158.2,247.0 158.8,247.5 159.4,247.5 159.9,246.9 160.2,246.0 160.6,245.1 160.8,244.4 161.0,243.6 161.2,242.8 161.4,242.0 161.5,241.2 161.8,240.4 162.0,239.7 162.3,238.8 162.7,238.0 163.2,237.4 163.9,237.5 164.7,237.7 165.4,238.0 166.1,238.5 166.7,239.0 167.4,239.6 168.0,240.0 168.7,240.4 169.5,240.8 170.2,241.1 171.0,241.3 171.8,241.3 172.6,241.4 173.4,241.5 174.2,241.5 175.0,241.5 175.8,241.6 176.6,241.6 177.4,241.6 178.3,241.6 179.1,241.6 179.9,241.6 180.7,241.6 181.5,241.5 182.3,241.5 183.1,241.5 183.9,241.5 184.7,241.4 185.5,241.4 186.3,241.3 187.1,241.3 187.9,241.2 188.7,241.2 189.6,241.2 190.4,241.1 191.2,241.1 192.0,241.0 192.8,241.0 193.6,241.0 194.4,240.9 195.2,240.9 196.0,240.9 196.8,240.9 197.6,240.9 198.4,240.9 199.2,240.9 200.0,241.0 200.8,241.1 201.6,241.1 202.4,241.2 203.2,241.3 204.0,241.5 204.8,241.6 205.6,241.7 206.4,241.8 207.2,242.0 208.0,242.1 208.8,242.3 209.6,242.4 210.4,242.6 211.2,242.7 212.0,242.8 212.8,243.0 213.6,243.1 214.4,243.3 215.2,243.4 216.0,243.6 216.8,243.8 217.5,244.0 218.3,244.2 219.1,244.4 219.9,244.6 220.7,244.8 221.4,245.0 222.2,245.3 222.9,245.5 223.7,245.8 224.4,246.1 225.2,246.4 225.9,246.7 226.7,247.0 227.4,247.3 228.2,247.7 228.9,248.0 229.6,248.4 230.4,248.8 231.1,249.1 231.8,249.5 232.5,249.9 233.2,250.3 233.9,250.7 234.6,251.1 235.3,251.5 236.0,251.9 236.7,252.3 237.4,252.7 238.0,253.2 238.7,253.6 239.4,254.1 240.0,254.6 240.7,255.1 241.3,255.6 242.0,256.1 242.6,256.6 243.2,257.1 243.8,257.6 244.5,258.1 245.1,258.7 245.7,259.2 246.3,259.7 246.9,260.2 247.5,260.8 248.2,261.3 248.8,261.8 249.4,262.4 250.0,262.9 250.6,263.5 251.2,264.1 251.8,264.6 252.4,265.2 253.0,265.8 253.5,266.4 254.1,266.9 254.6,267.5 255.1,268.1 255.6,268.8 256.1,269.4 256.6,270.0 257.1,270.6 257.5,271.3 257.9,271.9 258.4,272.6 258.8,273.3 259.2,274.0 259.6,274.7 260.0,275.4 260.4,276.1 260.7,276.8 261.1,277.6 261.5,278.3 261.8,279.1 262.1,279.8 262.5,280.6 262.8,281.3 263.1,282.1 263.4,282.8 263.7,283.6 263.9,284.3 264.2,285.1 264.5,285.8 264.7,286.6 265.0,287.4 265.2,288.1 265.5,288.9 265.7,289.7 266.0,290.5 266.2,291.2 266.4,292.0 266.6,292.8 266.8,293.6 267.0,294.4 267.1,295.2 267.3,296.0 267.4,296.8 267.6,297.6 267.7,298.3 267.8,299.1 267.9,299.9 268.0,300.7 268.1,301.5 268.2,302.3 268.3,303.1 268.4,303.9 268.5,304.7 268.6,305.5 268.7,306.3 268.7,307.1 268.8,307.9 268.9,308.8 268.9,309.6 269.0,310.4 269.0,311.2 269.0,312.0" fill="none" stroke="#0000a0" stroke-width="3.9" stroke-linejoin="round" stroke-linecap="butt"/>
<path d="M270.9,312.0 270.9,311.2 271.0,310.4 271.0,309.6 271.1,308.8 271.1,308.0 271.2,307.2 271.3,306.4 271.3,305.5 271.4,304.7 271.5,303.9 271.6,303.2 271.7,302.4 271.8,301.6 271.9,300.8 272.0,300.0 272.2,299.2 272.3,298.4 272.4,297.6 272.5,296.8 272.7,296.0 272.8,295.2 272.9,294.4 273.1,293.7 273.2,292.9 273.4,292.1 273.5,291.3 273.6,290.5 273.8,289.7 273.9,289.0 274.1,288.2 274.3,287.4 274.5,286.6 274.7,285.8 274.9,285.0 275.1,284.2 275.3,283.4 275.5,282.6 275.7,281.9 276.0,281.1 276.2,280.3 276.5,279.6 276.8,278.8 277.0,278.0 277.3,277.3 277.6,276.6 277.9,275.9 278.2,275.2 278.5,274.5 278.9,273.8 279.3,273.1 279.7,272.4 280.1,271.7 280.6,271.1 281.0,270.4 281.5,269.7 282.0,269.1 282.5,268.4 283.0,267.8 283.5,267.2 284.1,266.5 284.6,265.9 285.2,265.3 285.7,264.7 286.3,264.1 286.8,263.5 287.3,263.0 287.9,262.4 288.4,261.8 289.0,261.3 289.6,260.7 290.2,260.2 290.8,259.6 291.4,259.1 292.0,258.6 292.6,258.1 293.3,257.5 293.9,257.0 294.5,256.5 295.2,256.0 295.8,255.6 296.4,255.1 297.1,254.6 297.7,254.1 298.4,253.7 299.0,253.2 299.7,252.8 300.4,252.3 301.0,251.9 301.7,251.4 302.4,251.0 303.1,250.6 303.7,250.2 304.4,249.7 305.1,249.3 305.8,248.9 306.5,248.5 307.2,248.1 307.9,247.7 308.6,247.3 309.3,246.9 310.0,246.6 310.7,246.2 311.4,245.8 312.2,245.4 312.9,245.1 313.6,244.7 314.3,244.3 315.0,244.0 315.7,243.6 316.5,243.3 317.2,242.9 317.9,242.6 318.7,242.3 319.4,242.0 320.2,241.8 320.9,241.5 321.7,241.3 322.5,241.0 323.2,240.8 324.0,240.6 324.8,240.4 325.5,240.1 326.3,239.9 327.1,239.7 327.9,239.5 328.7,239.4 329.5,239.2 330.2,239.0 331.0,238.8 331.8,238.7 332.6,238.5 333.4,238.4 334.2,238.3 335.0,238.1 335.8,238.0 336.6,237.9 337.3,237.8 338.1,237.7 338.9,237.6 339.7,237.5 340.5,237.4 341.3,237.2 342.1,237.2 342.9,237.1 343.7,237.0 344.5,236.9 345.3,236.8 346.1,236.8 346.9,236.7 347.7,236.7 348.5,236.6 349.3,236.6 350.1,236.6 350.9,236.6 351.7,236.6 352.5,236.6 353.3,236.7 354.1,236.7 354.9,236.7 355.7,236.8 356.5,236.8 357.3,236.9 358.1,236.9 358.9,236.9 359.7,237.0 360.5,237.0 361.3,237.1 362.1,237.1 362.9,237.1 363.7,237.2 364.5,237.2 365.3,237.3 366.1,237.4 366.9,237.4 367.7,237.5 368.5,237.6 369.3,237.7 370.1,237.8 370.9,237.9 371.7,238.0 372.5,238.1 373.3,238.3 374.1,238.4 374.9,238.5 375.7,238.6 376.5,238.8 377.3,238.9 378.1,239.0 378.8,239.2 379.6,239.3 380.4,239.5 381.2,239.7 382.0,239.8 382.8,240.0 383.5,240.2 384.3,240.4 385.1,240.6 385.9,240.8 386.6,241.0 387.4,241.2 388.2,241.5 389.0,241.7 389.7,241.9 390.5,242.1 391.3,242.3 392.1,242.5 392.8,242.7 393.6,242.9 394.4,243.1 395.2,243.3 396.0,243.4 396.7,243.6 397.5,243.8 398.3,244.0 399.1,244.1 399.9,244.3 400.7,244.5 401.4,244.7 402.2,244.8 403.0,245.0 403.8,245.2 404.6,245.4 405.4,245.5 406.2,245.7 406.9,245.8 407.7,246.0 408.5,246.2 409.3,246.3 410.1,246.4 410.9,246.6 411.7,246.7 412.5,246.8 413.3,246.9 414.1,247.0 414.8,247.2 415.6,247.3 416.4,247.4 417.2,247.5 418.0,247.5 418.8,247.6 419.6,247.7 420.4,247.8 421.2,247.9 422.0,248.0 422.8,248.1 423.6,248.1 424.4,248.2 425.2,248.3 426.0,248.4 426.8,248.4 427.6,248.5 428.4,248.6 429.2,248.6 430.0,248.7 430.8,248.7 431.6,248.8 432.4,248.9 433.2,248.9 434.0,249.0 434.8,249.0 435.6,249.1 436.4,249.1 437.2,249.2 438.0,249.2 438.8,249.3 439.6,249.3 440.4,249.4 441.2,249.4 442.0,249.5 442.8,249.5 443.6,249.6 444.4,249.6 445.2,249.6 446.0,249.6 446.8,249.7 447.6,249.7 448.4,249.7 449.2,249.7 450.0,249.7 450.8,249.7 451.6,249.7 452.4,249.7 453.2,249.7 454.0,249.7 454.8,249.6 455.6,249.6 456.4,249.6 457.2,249.6 458.0,249.6 458.8,249.5 459.6,249.5 460.4,249.5 461.2,249.4 462.0,249.4 462.9,249.4 463.7,249.4 464.5,249.3 465.3,249.3 466.1,249.3 466.9,249.2 467.7,249.2 468.5,249.2 469.3,249.1 470.1,249.1 470.9,249.0 471.7,249.0 472.5,248.9 473.3,248.9 474.1,248.8 474.9,248.8 475.7,248.7 476.5,248.7 477.3,248.6 478.1,248.6 478.9,248.5 479.7,248.4 480.5,248.4 481.3,248.3 482.1,248.3 482.9,248.2 483.7,248.1 484.5,248.1 485.3,248.0 486.1,248.0 486.9,247.9 487.7,247.8 488.5,247.8 489.3,247.7 490.1,247.7 490.9,247.6 491.7,247.5 492.5,247.4 493.3,247.4 494.1,247.3 494.9,247.2 495.7,247.2 496.5,247.1 497.3,247.1 498.1,247.0 498.9,247.0 499.7,247.0 500.5,247.0 501.3,247.0 502.1,247.0 502.9,247.0 503.7,247.0 504.5,247.0 505.4,247.0 506.3,246.9 507.3,246.8 508.2,246.7 509.0,246.5 509.8,246.4 510.5,246.2 511.0,245.9 511.4,245.6 511.7,244.8 511.8,243.9 511.8,243.1 511.9,242.4 511.9,241.6 511.9,240.8 511.9,240.0 512.0,239.2 512.0,238.4 512.0,237.6 512.0,236.8 512.0,235.8 512.0,235.4 512.0,234.9 512.0,233.7 512.0,232.4 512.0,232.1 512.1,231.5 512.1,230.2 512.1,229.3 512.1,229.0 512.1,227.9 512.1,226.8 512.1,226.2 512.1,225.2 512.1,224.8 512.2,223.9 512.2,223.4 512.2,222.5 512.3,221.0 512.3,220.8 512.4,220.1 512.5,219.2 512.5,218.6 512.6,217.3 512.7,216.4 512.8,216.2 513.0,214.8 513.1,213.7 513.2,213.8 513.3,212.5 513.5,211.8 513.6,210.7 513.7,209.9 513.9,209.2 514.0,208.6 514.2,208.1 514.3,206.5 514.5,206.6 514.6,205.2 514.7,204.5 514.9,204.2 515.0,203.2 515.1,202.0 515.3,202.2 515.4,200.6 515.6,200.1 515.7,199.3 515.9,198.9 516.0,197.6 516.2,197.2 516.3,195.9 516.5,195.7 516.7,194.3 516.8,193.7 517.0,193.5 517.2,192.3 517.3,191.4 517.5,191.3 517.7,189.9 517.8,188.8 518.0,188.5 518.1,187.1 518.3,187.0 518.4,186.3 518.6,184.9 518.7,184.1 518.9,183.6 519.0,182.7 519.1,181.7 519.2,181.3 519.3,179.8 519.4,179.4 519.5,178.7 519.6,177.9 519.7,177.3 519.8,176.0 519.9,175.8 520.0,174.7 520.0,173.8 520.1,172.8 520.2,172.0 520.3,171.7 520.3,170.5 520.4,170.0 520.5,169.5 520.5,168.7 520.6,168.1 520.6,166.7 520.7,165.7 520.8,165.5 520.8,164.5 520.9,163.9 521.0,162.8 521.0,162.4 521.1,161.4 521.2,160.6 521.3,159.7 521.3,158.9 521.4,158.1 521.5,157.3 521.6,156.7 521.7,155.5 521.8,155.3 521.9,154.0 522.0,153.5 522.1,152.4 522.2,151.6 522.3,151.5 522.4,150.0 522.6,148.9 522.7,148.3 522.8,147.6 523.0,147.5 523.1,146.2 523.3,145.6 523.4,144.2 523.6,143.8 523.7,143.2 523.9,142.7 524.1,141.2 524.2,140.8 524.4,139.9 524.6,138.7 524.8,138.2 525.0,137.4 525.2,136.0 525.4,136.1 525.6,135.3 525.8,134.2 526.0,133.2 526.2,133.3 526.5,132.1 526.7,131.6 527.0,131.0 527.3,129.6 527.6,129.3 527.9,128.2 528.2,127.5 528.5,126.8 528.8,126.1 529.2,125.7 529.5,124.7 529.9,123.9 530.4,123.2 530.9,122.7 531.4,121.7 532.0,121.2 532.6,120.8 533.2,120.2 533.9,120.0 534.6,119.6 535.4,120.2 536.2,119.8 537.0,119.3 537.8,119.0 538.6,119.4 539.3,118.6 540.0,118.2 540.8,118.0 541.5,117.6 542.2,117.6 542.9,116.8 543.6,117.0 544.3,115.7 545.0,115.8 545.6,114.8 546.3,115.2 546.9,114.0 547.6,113.6 548.2,113.5 548.9,113.1 549.5,111.9 550.2,111.6 550.8,110.8 551.5,110.7 552.1,110.1 552.8,109.5 553.4,108.8 554.1,108.4 554.7,107.9 555.4,107.9 556.1,108.0 556.8,106.8 557.6,107.2 558.4,107.0 559.2,107.2 560.0,106.7 560.8,106.9 561.7,106.6 562.5,107.0 563.4,106.8 564.2,106.7 565.0,106.7 565.8,106.5 566.5,106.0 567.2,106.5 567.9,106.1 568.5,105.4 569.1,105.2 569.7,104.6 570.3,103.3 570.9,102.9 571.6,103.2 572.3,102.8 573.1,101.9 573.8,101.5 574.6,101.3 575.2,100.9 575.8,100.1 576.4,100.0 576.9,99.0 577.5,98.4 578.0,98.4 578.5,97.3 578.9,96.8 579.4,96.4 579.8,95.8 580.2,94.7 580.7,94.1 581.1,93.2 581.5,93.2 581.9,92.2 582.3,91.0 582.7,90.6 583.2,90.2 583.6,89.5 584.1,89.3 584.6,88.5 585.2,87.4 585.8,87.0 586.4,86.1 587.0,86.0 587.6,85.5 588.2,85.7 588.9,84.5 589.5,83.3 590.1,83.2 590.7,83.0 591.4,82.1 592.0,81.7 592.7,81.4 593.3,81.1 594.0,80.5 594.6,79.8 595.2,79.8 595.8,78.9 596.4,78.4 597.0,77.6 597.6,77.2 598.2,77.1 598.8,75.9 599.4,75.8" fill="none" stroke="#0000a0" stroke-width="3.9" stroke-linejoin="round" stroke-linecap="butt"/>
<path d="M499.5,243 L499.5,251.2" fill="none" stroke="#0000a0" stroke-width="1.6"/>
<path d="M503.8,243 L503.8,251.2" fill="none" stroke="#0000a0" stroke-width="1.6"/>
<rect x="282.4" y="266.3" width="5.8" height="5.8" fill="#0000a0"/>
<rect x="254.5" y="269.9" width="3" height="3" fill="#0000a0"/>
<path d="M540.8,120.6 542.0,121.4" fill="none" stroke="#0000a0" stroke-width="3.6" stroke-linejoin="round" stroke-linecap="square"/>
<path d="M575.2,104.0 576.6,105.6" fill="none" stroke="#0000a0" stroke-width="5.2" stroke-linejoin="round" stroke-linecap="square"/>
<path d="M267.3,310.0 267.2,311.5 267.3,313.0 267.1,314.5 267.5,316.0 267.5,317.5 267.3,319.0 267.1,320.5 267.2,322.0 267.5,323.5 267.6,325.0 267.4,326.5 267.6,328.0 267.4,329.5 267.5,331.0 267.6,332.5 267.7,334.0 267.5,335.5 267.9,337.0 268.1,338.5 267.8,340.0 267.8,341.5 268.1,343.0 268.0,344.5 267.8,346.0 268.3,347.5 268.3,349.0 268.3,350.5 268.7,352.0 268.5,353.5 268.4,355.0 268.6,356.5 268.4,358.0 268.6,359.5 268.8,361.0 268.7,362.5 268.8,364.0 271.1,364.0 271.0,362.5 270.9,361.0 271.4,359.5 271.4,358.0 271.1,356.5 271.3,355.0 271.5,353.5 271.7,352.0 271.3,350.5 271.8,349.0 271.4,347.5 271.5,346.0 271.6,344.5 271.8,343.0 271.8,341.5 271.6,340.0 271.9,338.5 271.8,337.0 271.9,335.5 272.1,334.0 272.2,332.5 272.1,331.0 272.5,329.5 272.4,328.0 272.4,326.5 272.2,325.0 272.4,323.5 272.3,322.0 272.8,320.5 272.5,319.0 272.7,317.5 272.6,316.0 272.6,314.5 272.7,313.0 272.7,311.5 272.9,310.0Z" fill="#0000a0" stroke="none"/>
<path d="M270,360 L270,407.6" fill="none" stroke="#0000a0" stroke-width="1"/>
<rect x="268.5" y="379.7" width="3" height="3" fill="#0000a0"/>
<rect x="268.5" y="397.1" width="3" height="3" fill="#0000a0"/>
<rect x="268.5" y="406.1" width="3" height="3" fill="#0000a0"/>
<path d="M151,127.4 L155.4,125" fill="none" stroke="#8b0000" stroke-width="1"/>
<rect x="149.5" y="125.9" width="3" height="3" fill="#8b0000"/>
<path d="M155.4,124.1 155.4,124.9 155.4,125.7 155.4,126.5 155.4,127.3 155.4,128.1 155.4,128.9 155.4,129.7 155.4,130.5 155.4,131.3 155.5,132.1 155.5,132.9 155.5,133.7 155.5,134.5 155.5,135.3 155.5,136.2 155.5,137.0 155.6,137.8 155.6,138.6 155.6,139.4 155.6,140.2 155.6,141.0 155.7,141.8 155.7,142.6 155.7,143.4 155.8,144.2 155.8,145.0 155.8,145.8 155.9,146.6 155.9,147.4 156.0,148.2 156.0,149.0 156.1,149.8 156.1,150.6 156.2,151.4 156.2,152.2 156.3,153.0 156.4,153.8 156.4,154.6 156.5,155.4 156.6,156.2 156.7,157.0 156.8,157.8 156.9,158.6 157.0,159.4 157.2,160.2 157.4,161.0 157.6,161.7 157.8,162.5 158.1,163.3 158.4,164.1 158.6,164.8 158.9,165.5 159.2,166.3 159.6,167.0 160.0,167.7 160.4,168.4 160.9,169.1 161.3,169.7 161.8,170.4 162.3,171.0 162.8,171.7 163.3,172.3 163.9,172.9 164.5,173.5 165.1,174.0 165.7,174.6 166.3,175.0 166.9,175.5 167.6,175.8 168.3,176.2 168.9,176.6 169.7,176.9 170.4,177.2 171.1,177.6 171.9,177.9 172.6,178.2 173.4,178.4 174.2,178.7 175.0,179.0 175.8,179.2 176.6,179.5 177.3,179.7 178.1,179.9 178.9,180.1 179.7,180.3 180.5,180.5 181.3,180.7 182.0,180.9 182.8,181.1 183.6,181.3 184.4,181.5 185.1,181.6 185.9,181.8 186.7,181.9 187.5,182.1 188.3,182.3 189.1,182.4 189.9,182.5 190.7,182.7 191.5,182.8 192.3,183.0 193.1,183.1 193.9,183.2 194.7,183.4 195.5,183.5 196.2,183.6 197.0,183.7 197.8,183.9 198.6,184.0 199.4,184.1 200.2,184.3 201.0,184.4 201.8,184.5 202.6,184.7 203.4,184.8 204.2,184.9 205.0,185.0 205.8,185.1 206.6,185.3 207.4,185.4 208.2,185.5 209.0,185.6 209.7,185.7 210.5,185.8 211.3,185.9 212.1,186.0 212.9,186.2 213.7,186.3 214.5,186.4 215.3,186.5 216.1,186.6 216.9,186.7 217.7,186.8 218.5,187.0 219.3,187.1 220.1,187.2 220.9,187.3 221.7,187.5 222.5,187.6 223.3,187.7 224.1,187.9 224.8,188.0 225.6,188.1 226.4,188.3 227.2,188.4 228.0,188.6 228.8,188.7 229.6,188.8 230.4,189.0 231.2,189.1 232.0,189.3 232.7,189.4 233.5,189.6 234.3,189.7 235.1,189.9 235.9,190.1 236.7,190.2 237.5,190.4 238.3,190.5 239.1,190.7 239.8,190.9 240.6,191.0 241.4,191.2 242.2,191.4 243.0,191.5 243.8,191.7 244.6,191.9 245.3,192.1 246.1,192.2 246.9,192.4 247.7,192.6 248.5,192.8 249.2,193.0 250.0,193.1 250.8,193.3 251.6,193.5 252.4,193.7 253.2,193.9 253.9,194.1 254.7,194.3 255.5,194.5 256.3,194.7 257.1,194.9 257.8,195.1 258.6,195.3 259.4,195.5 260.2,195.8 260.9,196.0 261.7,196.2 262.5,196.4 263.3,196.7 264.0,196.9 264.8,197.1 265.5,197.4 266.3,197.6 267.1,197.9 267.8,198.1 268.6,198.4 269.3,198.7 270.1,199.0 270.8,199.3 271.6,199.5 272.3,199.8 273.1,200.1 273.8,200.5 274.6,200.8 275.3,201.1 276.1,201.4 276.8,201.7 277.5,202.1 278.3,202.4 279.0,202.7 279.7,203.1 280.4,203.4 281.2,203.8 281.9,204.2 282.6,204.5 283.3,204.9 284.0,205.3 284.7,205.6 285.4,206.0 286.1,206.4 286.8,206.8 287.5,207.2 288.2,207.7 288.9,208.1 289.5,208.5 290.2,209.0 290.9,209.4 291.6,209.9 292.2,210.3 292.9,210.8 293.5,211.3 294.2,211.7 294.8,212.2 295.5,212.7 296.1,213.2 296.7,213.7 297.3,214.2 297.9,214.7 298.5,215.2 299.1,215.8 299.7,216.3 300.3,216.9 300.9,217.4 301.5,218.0 302.1,218.5 302.7,219.1 303.2,219.7 303.8,220.2 304.4,220.8 305.0,221.3 305.6,221.9 306.1,222.4 306.7,223.0 307.3,223.6 307.9,224.1 308.4,224.7 308.5,225.3 309.4,225.8 310.6,226.4 309.9,227.0 311.0,227.6 312.0,228.1 311.9,228.7 313.7,229.3 312.7,229.9 314.4,230.5 315.0,231.1 315.4,231.7 315.6,232.3 316.3,232.9 316.5,233.5 317.5,234.1 317.5,234.7 318.2,235.3 319.1,235.9 319.0,236.6 319.7,237.2 320.4,237.8 320.4,238.5 321.6,239.1 321.8,239.8 321.7,240.4 322.6,241.1 322.8,241.8 323.3,242.4 324.0,243.1 324.2,243.8 325.1,244.5 325.0,245.2 325.9,245.9 326.0,246.6 326.7,247.4 326.6,248.1 327.0,248.8 327.1,249.5 327.9,250.3 328.3,251.0 328.9,251.7 328.9,252.5 328.8,253.3 328.8,254.0 329.2,254.8 329.3,255.6 329.9,256.4 329.9,257.1 329.5,257.9 329.7,258.7 330.5,259.5 330.3,260.3 330.3,261.1 330.9,261.9 330.5,262.7 330.7,263.5 330.7,264.3 330.4,265.1 331.4,265.9 330.8,266.7 331.1,267.5 331.2,268.3 331.7,269.1 331.5,269.9 331.6,270.7 331.2,271.5 331.8,272.3 331.4,273.1 332.0,273.9 332.1,274.7 332.1,275.5 332.8,276.3 332.4,277.1 332.6,277.9 332.5,278.7 332.5,279.5 333.0,280.3 333.2,281.1 332.6,281.9 333.5,282.7 333.5,283.4 333.9,284.2 333.9,285.0 333.6,285.8 333.9,286.5 335.0,287.3 334.7,288.1 334.4,288.9 335.1,289.7 335.1,290.4 334.9,291.2 334.9,292.0" fill="none" stroke="#8b0000" stroke-width="3.9" stroke-linejoin="round" stroke-linecap="butt"/>
<path d="M337.2,292.0 338.3,291.5 336.9,291.0 337.7,290.5 336.8,290.1 338.9,289.6 337.4,289.1 336.7,288.6 338.1,288.2 338.2,287.7 339.6,287.2 338.5,286.8 338.9,286.3 339.4,285.8 340.2,285.4 339.4,284.9 340.3,284.4 340.1,284.0 339.8,283.5 340.2,283.0 340.4,282.6 340.0,282.1 341.4,281.6 340.0,281.1 341.7,280.7 341.7,280.2 341.2,279.7 340.9,279.2 341.4,278.7 342.0,278.3 342.3,277.6 342.1,276.9 342.6,277.1 341.8,276.3 342.4,275.0 341.4,275.3 342.9,275.7 342.7,274.5 342.4,273.7 343.5,273.0 343.3,272.4 341.3,272.4 343.1,271.2 342.3,271.1 343.9,270.9 344.8,270.3 343.1,269.1 343.5,269.3 343.4,268.4 343.9,268.5 344.1,269.1 344.6,267.8 343.3,266.8 344.9,265.5 343.5,265.1 344.3,264.5 344.9,265.4 344.7,264.0 343.8,264.0 344.1,263.1 344.3,263.1 344.6,263.4 345.5,261.6 344.1,261.4 345.3,260.6 345.5,261.1 345.6,259.4 345.7,258.9 346.5,258.2 346.1,257.7 346.5,258.4 346.5,259.2 347.4,256.6 345.4,257.4 347.6,256.6 347.0,255.4 347.3,255.5 347.2,255.2 347.1,254.6 348.6,255.9 349.1,253.3 349.5,254.4 350.0,254.1 350.4,253.3 350.8,253.4 351.2,253.6 351.7,253.0 352.1,252.9 352.6,252.8 353.0,251.0 353.5,252.8 353.9,253.1 354.4,252.1 354.8,251.9 355.3,250.3 355.8,250.9 356.3,250.3 356.7,250.2 357.2,251.0 357.7,249.8 358.1,250.0 358.6,248.8 359.1,249.7 359.5,249.7 360.0,249.0 360.5,248.9 361.0,250.3 361.5,248.3 361.9,248.2 362.4,248.2 362.9,249.3 363.4,249.7 363.9,248.5 364.4,247.8 364.9,247.8 365.3,248.6 365.8,247.3 366.3,248.6 366.8,248.5 367.3,247.5 367.8,247.8 368.3,247.8 368.8,248.1 369.3,246.5 369.7,247.7 370.2,246.7 370.7,246.4 371.2,246.8 371.7,246.6 372.2,246.0 372.7,245.6 373.2,245.9 373.7,247.3 374.2,247.5 374.7,246.7 375.2,246.9 375.7,245.8 376.2,246.0 376.7,246.2 377.2,245.3 377.7,245.3 378.2,245.9 378.7,245.5 379.2,245.0 379.7,245.8 380.2,245.4 380.7,246.1 381.1,245.4 381.6,245.2 382.1,245.3 382.6,245.1 383.1,244.7 383.6,244.8 384.1,245.5 384.6,245.3 385.1,245.7 385.6,243.8 386.1,244.5 386.6,244.4 387.1,244.7 387.6,244.3 388.1,244.2 388.6,244.9 389.1,244.5 389.6,243.6 390.1,245.1 390.6,244.8 391.1,243.8 391.6,244.6 392.1,243.6 392.6,244.7 393.1,243.8 393.6,243.4 394.1,243.6 394.6,243.3 395.1,243.8 395.6,243.7 396.1,243.6 396.6,243.2 397.1,241.3 397.5,243.5 398.0,242.2 398.5,243.4 399.0,243.9 399.5,243.3 400.0,243.0 400.5,243.0 401.0,243.0 401.5,242.7 402.0,242.7 402.5,242.5 403.0,243.3 403.5,242.7 404.0,243.1 404.5,242.5 405.0,242.6 405.5,242.5 406.0,242.7 406.5,242.8 407.0,242.5 407.5,242.1 408.0,242.0 408.5,242.9 409.0,242.0 409.5,242.0 410.0,242.6 410.5,242.4 411.0,242.1 411.5,241.7 412.0,242.8 412.5,241.9 413.0,241.9 413.5,241.6 414.0,241.0 414.5,241.0 415.0,241.6 415.5,241.5 416.0,241.2 416.5,240.8 417.0,240.6 417.5,241.0 418.0,240.5 418.5,241.4 418.9,241.4 419.4,242.0 419.9,241.2 420.4,240.5 420.9,240.3 421.4,239.2 421.9,240.3 422.4,240.4 422.9,240.8 423.4,240.6 423.9,240.5 424.4,240.3 424.9,240.4 425.4,240.7 425.9,239.6 426.4,239.7 426.9,239.3 427.4,240.4 427.9,240.2 428.4,239.9 428.9,239.0 429.4,239.5 429.9,239.2 430.3,239.3 430.8,239.1 431.3,239.3 431.8,238.8 432.3,239.2 432.8,238.8 433.3,238.5 433.7,238.5 434.2,238.2 434.7,238.6 435.2,238.0 435.7,238.1 436.1,237.7 436.6,237.1 437.1,237.9 437.6,237.0 438.1,237.5 438.5,237.3 439.0,236.3 439.5,236.4 440.0,236.4 440.4,236.1 440.9,235.8 441.4,236.4 441.9,235.8 442.3,235.9 442.8,235.4 443.3,235.6 443.8,235.0 444.2,235.1 444.7,235.2 445.2,234.8 445.7,234.4 446.1,234.0 446.6,234.4 447.1,234.3 447.6,233.9 448.0,233.5 448.5,233.9 449.0,234.5 449.5,233.2 449.9,233.3 450.4,233.1 450.9,231.8 451.3,232.7 451.8,232.2 452.3,232.9 452.8,232.0 453.2,231.7 453.7,231.7 454.2,231.7 454.6,231.2 455.1,231.3 455.6,230.6 456.0,230.8 456.5,231.1 457.0,231.4 457.4,230.7 457.9,230.3 458.4,230.5 458.9,230.3 459.3,230.4 459.8,230.0 460.3,229.3 460.9,229.3 461.4,229.1 461.9,229.0 462.4,228.8 462.9,228.3 463.4,227.6 463.9,228.0 464.4,227.2 464.8,227.9 465.3,227.6 465.7,226.7 466.1,227.4 466.4,227.3 466.8,226.7 467.1,227.0 467.4,226.7 467.6,225.0 467.9,225.4 468.1,224.7 468.2,224.2 468.3,223.9 468.3,222.8 468.3,222.4 468.4,221.8 468.4,221.6 468.4,221.1 468.5,220.6 468.5,220.1 468.5,219.6 468.5,219.1 468.5,218.6 468.6,218.1 468.6,217.6 468.6,217.1 468.6,216.5 468.6,216.0 468.7,215.5 468.7,215.0 468.7,214.5 468.8,214.0 468.8,213.5 468.8,213.0 468.9,212.5 468.9,212.0 468.9,211.5 469.0,211.0 469.0,210.5 469.1,210.0 469.1,209.5 469.1,209.0 469.2,208.5 469.2,208.0 469.3,207.5 469.3,207.0 469.3,206.5 469.4,206.0 469.4,205.6 469.5,205.1 469.5,204.6 469.6,204.1 469.6,203.6 469.7,203.1 469.7,202.6 469.8,202.1 469.8,201.6 469.8,201.1 469.9,200.6 469.9,200.1 470.0,199.6 470.0,198.8 470.1,198.5 470.1,197.6 470.2,197.3 470.2,197.2 470.3,196.6 470.3,196.2 470.3,195.0 470.4,194.8 470.4,194.4 470.5,194.1 470.5,193.4 470.6,193.4 470.6,192.6 470.7,192.1 470.7,191.6 470.7,191.3 470.8,190.4 470.8,190.4 470.9,189.7 470.9,189.1 470.9,188.6 471.0,188.2 471.0,187.9 471.1,187.4 471.1,186.7 471.1,186.4 471.2,185.6 471.2,185.5 471.3,184.6 471.3,183.5 471.3,184.0 471.4,183.1 471.4,182.3 471.5,182.0 471.5,181.3 471.5,181.7 471.6,180.8 471.6,179.6 471.6,179.8 471.7,179.0 471.7,179.2 471.8,177.8 471.8,176.9 471.8,177.1 471.9,176.5 471.9,176.0 471.9,175.0 472.0,175.2 472.0,175.1 472.0,173.5 472.1,174.0 472.1,172.9 472.1,173.3 472.2,172.2 472.2,171.6 472.2,171.4 472.3,170.8 472.3,169.9 472.3,169.8 472.4,169.0 472.4,168.1 472.4,168.7 472.4,167.5 472.4,166.9 472.5,166.7 472.5,165.6 472.5,165.2 472.5,165.0 472.6,164.5 472.6,164.1 472.6,163.9 472.6,163.0 472.7,162.8 472.7,162.3 472.7,161.3 472.8,161.2 472.8,160.3 472.8,160.4 472.9,159.8 472.9,159.1 473.0,158.2 473.1,158.2 473.2,157.4 473.2,157.4 473.3,156.6 473.4,155.9 473.5,155.9 473.6,155.4 473.7,154.5 473.8,154.5 473.9,153.6 474.0,153.1 474.1,152.8 474.2,152.0 474.3,151.6 474.4,151.2 474.6,151.2 474.7,150.7 474.8,149.7 474.9,149.8 475.0,148.8 475.1,148.4 475.2,148.1 475.4,147.4 475.5,147.6 475.6,146.4 475.7,145.5 475.8,145.8 475.9,144.8 476.1,144.3 476.2,143.0 476.3,143.8 476.5,143.2 476.6,142.7 476.7,142.3 476.9,142.0 477.0,141.0 477.2,140.8 477.3,139.9 477.4,139.5 477.6,139.4 477.7,138.8 477.9,137.8 478.1,137.8 478.2,137.2 478.4,136.5 478.5,136.4 478.7,135.7 478.9,134.9 479.0,134.5 479.2,134.9 479.4,133.5 479.6,133.5 479.8,133.2 479.9,132.7 480.1,131.7 480.3,131.5 480.5,131.2 480.8,130.9 481.0,130.0 481.2,129.4 481.4,129.6 481.6,129.2 481.8,128.5 482.1,127.8 482.3,127.7 482.5,127.1 482.7,126.9 483.0,125.8 483.2,125.8 483.5,125.3 483.7,124.6 484.0,124.5 484.2,124.0 484.5,123.5 484.7,123.3 485.0,122.3 485.3,122.3 485.5,122.0 485.8,121.5 486.1,121.4 486.4,120.3 486.7,119.8 486.9,119.9 487.2,119.5 487.5,119.6 487.8,118.8 488.1,117.9 488.4,118.0 488.7,117.1 489.0,116.5 489.3,117.4 489.6,116.3 489.9,116.0 490.3,115.6 490.6,115.5 490.9,114.7 491.2,114.6 491.6,113.5 491.9,113.0 492.2,113.5 492.6,113.1 492.9,112.5 493.3,112.0 493.6,111.7 494.0,111.1 494.4,111.4 494.7,110.8 495.1,110.5 495.5,110.1 495.9,110.0 496.3,109.6 496.7,109.3 497.1,108.5 497.5,108.7 497.9,108.9 498.3,107.8 498.8,107.7 499.2,107.7 499.6,107.5 500.1,107.1 500.5,106.2 501.0,106.6 501.4,105.9 501.9,105.8 502.4,106.0 502.8,105.5 503.3,105.7 503.7,106.2 504.2,105.3 504.7,105.2 505.1,104.6 505.6,104.5 506.1,104.3 506.6,104.3 507.1,104.1 507.6,104.1 508.1,104.1 508.6,103.8 509.1,103.6 509.6,103.5 510.1,103.9 510.6,103.7 511.1,103.8 511.5,103.7 512.0,103.2 512.5,103.3 512.9,102.5 513.4,103.4 513.8,102.9 514.3,102.2 514.7,101.7 515.2,101.9 515.6,101.0 516.0,101.1 516.5,101.3 516.9,100.8 517.3,100.4 517.8,100.5 518.2,99.7 518.6,99.8 519.1,99.3 519.5,99.0 519.9,99.1 520.4,98.5 520.8,99.1 521.3,98.1 521.7,98.6 522.1,97.5 522.6,97.7 523.0,96.9 523.4,96.6 523.9,96.9 524.3,96.8 524.8,95.9 525.2,96.4 525.6,95.6 526.0,95.6 526.5,95.4 526.9,95.2 527.3,94.2 527.8,95.0 528.2,94.4 528.6,93.8 529.0,93.4 529.4,92.9 529.8,92.7 530.3,93.0 530.7,92.4 531.1,91.9 531.5,91.8 531.9,92.1 532.3,91.3 532.7,90.9 533.2,91.3 533.6,90.8 534.1,90.4 534.5,90.0 535.0,89.6 535.4,89.5 535.9,89.5 536.3,89.4 536.8,89.4 537.3,89.3 537.8,89.0 538.2,88.8 538.7,88.3 539.2,87.8 539.7,88.1 540.1,87.8 540.6,87.8 541.1,87.7 541.6,87.3 542.1,87.2 542.5,87.3 543.0,87.2 543.5,86.9 544.0,87.1 544.4,86.7 544.9,86.3 545.4,86.5 545.9,86.9 546.4,86.0 546.9,86.5 547.3,86.4 547.8,86.3 548.3,85.5 548.8,86.2 549.3,85.5 549.7,85.2 550.2,85.1 550.7,85.2 551.2,84.8 551.7,84.6 552.1,84.9 552.6,84.1 553.1,83.9 553.5,84.3 554.0,84.1 554.5,84.0 555.0,83.2 555.4,83.7 555.9,83.3 556.4,83.5 556.8,82.5 557.3,82.7 557.8,82.4 558.3,81.8 558.7,81.9 559.2,82.3 559.7,81.7 560.1,81.4 560.6,81.7 561.1,81.6 561.6,81.4 562.0,80.8 562.5,80.8 563.0,81.0 563.5,80.3 563.9,80.1 564.4,80.4 564.9,80.5 565.4,79.5 565.8,78.9 566.3,79.1 566.8,79.0 567.3,79.1 567.7,79.2 568.2,78.8 568.7,78.4 569.2,78.5 569.6,78.0 570.1,78.2 570.6,77.8 571.1,78.7 571.6,78.0 572.0,77.4 572.5,77.2 573.0,77.3 573.5,76.8 574.0,77.0 574.5,77.0 575.0,77.4 575.5,76.9 576.0,76.8 576.5,76.5 577.0,76.5 577.5,76.8 578.0,76.8 578.5,77.1 579.0,76.5 579.5,77.0 580.0,76.7 580.5,76.6 581.0,76.0 581.5,76.1 582.0,76.7 582.5,76.9 583.0,76.4 583.5,76.6 584.0,76.1 584.5,76.1 585.0,75.9 585.4,76.3 585.9,76.0 586.4,75.7 586.8,75.5 587.3,75.5 587.7,75.2 588.2,74.6 588.6,75.1 589.0,74.4 589.5,74.0 589.9,74.2 590.3,73.8 590.8,73.2 591.2,73.2 591.7,72.5 592.2,72.5 592.6,71.9 593.1,72.8 593.6,71.8 594.1,72.4 594.6,71.9 595.1,71.7 595.6,71.9 596.1,72.0 596.6,72.0 597.1,72.3 597.6,71.9 598.1,72.1 598.6,71.6 599.1,72.0 599.6,71.8 600.1,71.7 600.6,71.8 601.1,71.8 601.6,71.9 602.1,71.9 602.6,71.6 603.1,71.6 603.6,72.0" fill="none" stroke="#8b0000" stroke-width="3.9" stroke-linejoin="round" stroke-linecap="butt"/>
<path d="M470.0,198.6 470.1,198.7 470.1,198.1 470.2,197.5 470.2,197.2 470.3,196.8 470.3,195.4 470.3,195.5 470.4,194.8 470.4,194.2 470.5,193.9 470.5,193.5 470.6,193.0 470.6,192.1 470.7,191.9 470.7,192.2 470.7,190.8 470.8,190.1 470.8,190.2 470.9,189.8 470.9,189.2 470.9,188.3 471.0,188.4 471.0,187.4 471.1,186.8 471.1,186.4 471.1,186.1 471.2,185.8 471.2,185.3 471.3,184.6 471.3,184.4 471.3,183.6 471.4,183.4 471.4,182.2 471.5,181.6 471.5,181.8 471.5,180.7 471.6,180.5 471.6,180.1 471.6,179.5 471.7,179.0 471.7,179.0 471.8,177.4 471.8,177.9 471.8,177.8 471.9,176.6 471.9,176.1 471.9,175.8 472.0,175.7 472.0,174.3 472.0,174.1 472.1,173.6 472.1,173.3 472.1,172.7 472.2,172.3 472.2,171.5 472.2,171.1 472.3,170.4 472.3,169.9 472.3,169.6 472.4,169.1 472.4,168.3 472.4,168.6 472.4,167.6 472.4,166.7 472.5,166.9 472.5,165.9 472.5,165.8 472.5,165.1 472.6,164.7 472.6,164.2 472.6,163.4 472.6,163.1 472.7,163.2 472.7,161.4 472.7,161.6 472.8,161.2 472.8,160.3 472.8,159.7 472.9,160.3 472.9,159.0 473.0,159.3 473.1,158.3 473.2,157.7 473.2,157.3 473.3,156.8 473.4,156.5 473.5,155.8 473.6,155.2 473.7,154.7 473.8,154.6 473.9,153.9 474.0,152.9 474.1,152.5 474.2,152.3 474.3,151.6 474.4,151.1 474.6,150.5 474.7,150.2 474.8,149.9 474.9,149.6 475.0,148.8 475.1,148.9 475.2,147.8 475.4,148.3 475.5,147.2 475.6,146.5 475.7,145.7 475.8,144.6 475.9,144.9 476.1,144.5 476.2,144.5 476.3,143.0 476.5,143.5 476.6,142.4 476.7,142.2 476.9,140.8 477.0,141.1 477.2,140.5 477.3,140.3 477.4,139.6 477.6,138.8 477.7,138.9 477.9,138.4 478.1,137.9 478.2,137.5 478.4,137.1 478.5,136.3 478.7,135.4 478.9,134.9 479.0,135.3 479.2,134.6 479.4,134.0 479.6,133.3 479.8,133.0 479.9,132.5 480.1,132.0 480.3,131.4 480.5,131.8 480.8,130.8 481.0,130.0 481.2,129.4 481.4,129.1 481.6,129.1 481.8,128.6 482.1,127.9 482.3,127.5 482.5,127.0 482.7,126.3 483.0,126.6 483.2,125.9 483.5,126.1 483.7,124.7 484.0,124.4 484.2,124.3 484.5,123.5 484.7,122.7 485.0,122.5 485.3,122.3 485.5,122.0 485.8,121.4 486.1,121.3 486.4,120.9 486.7,120.3 486.9,119.8 487.2,119.3 487.5,119.2 487.8,118.9 488.1,118.2 488.4,117.9 488.7,117.3 489.0,116.6 489.3,116.3 489.6,116.4 489.9,115.9 490.3,115.9 490.6,115.0 490.9,114.9 491.2,114.6 491.6,114.1 491.9,113.3 492.2,113.0 492.6,112.7 492.9,112.0 493.3,112.1 493.6,111.9 494.0,111.1 494.4,111.5 494.7,110.5 495.1,110.3 495.5,109.9 495.9,109.5 496.3,109.5 496.7,109.1 497.1,109.3 497.5,108.7 497.9,108.4 498.3,107.9 498.8,107.3 499.2,107.4 499.6,106.9 500.1,107.2 500.5,106.7 501.0,107.0 501.4,106.4 501.9,106.3 502.4,105.9 502.8,105.7 503.3,105.6 503.7,105.5 504.2,104.9 504.7,105.1 505.1,105.6 505.6,104.7 506.1,104.5 506.6,104.3 507.1,103.9 507.6,104.6 508.1,104.2 508.6,104.2 509.1,104.5 509.6,104.6 510.1,103.5 510.6,104.0 511.1,103.7 511.5,103.5 512.0,103.4 512.5,103.1 512.9,103.4 513.4,102.9 513.8,102.6 514.3,102.7 514.7,102.3 515.2,102.0 515.6,101.7 516.0,101.8 516.5,101.2 516.9,100.8 517.3,100.3 517.8,100.2 518.2,99.7 518.6,99.8 519.1,99.6 519.5,98.6 519.9,99.0 520.4,99.0 520.8,98.6 521.3,98.0 521.7,98.4 522.1,97.6 522.6,97.2 523.0,97.0 523.4,97.0 523.9,97.1 524.3,96.9 524.8,96.4 525.2,95.7 525.6,95.6 526.0,95.3 526.5,95.2 526.9,94.5 527.3,94.8 527.8,94.7 528.2,94.2 528.6,94.1 529.0,93.4 529.4,93.0 529.8,92.9 530.3,93.2 530.7,92.8 531.1,92.1 531.5,92.3 531.9,91.6 532.3,91.8 532.7,91.3 533.2,90.7 533.6,90.9 534.1,90.2 534.5,89.9 535.0,89.6 535.4,89.9 535.9,89.6 536.3,89.4 536.8,89.2 537.3,89.5 537.8,88.8 538.2,88.6 538.7,89.0 539.2,88.9 539.7,88.4 540.1,87.6 540.6,87.8 541.1,88.0 541.6,87.7 542.1,88.0 542.5,87.0 543.0,87.4 543.5,86.9 544.0,87.3 544.4,86.8 544.9,87.0 545.4,86.3 545.9,86.0 546.4,85.9 546.9,85.9 547.3,85.7 547.8,86.2 548.3,86.1 548.8,85.6 549.3,85.1 549.7,85.2 550.2,84.9 550.7,85.4 551.2,84.9 551.7,84.8 552.1,84.4 552.6,83.7 553.1,83.9 553.5,83.7 554.0,84.0 554.5,83.7 555.0,83.3 555.4,83.2 555.9,83.6 556.4,82.7 556.8,82.6 557.3,82.6 557.8,82.3 558.3,82.2 558.7,82.3 559.2,82.5 559.7,81.3 560.1,81.6 560.6,81.5 561.1,81.3 561.6,81.1 562.0,80.9 562.5,81.1 563.0,80.5 563.5,80.5 563.9,80.4 564.4,80.2 564.9,80.0 565.4,80.1 565.8,79.7 566.3,79.6 566.8,79.3 567.3,78.9 567.7,78.7 568.2,78.5 568.7,78.7 569.2,78.3 569.6,78.0 570.1,78.2 570.6,78.2 571.1,77.4 571.6,78.3 572.0,77.7 572.5,77.5 573.0,77.7 573.5,77.4 574.0,77.1 574.5,77.8 575.0,76.8 575.5,77.0 576.0,77.3 576.5,76.6 577.0,76.9 577.5,77.0 578.0,77.5 578.5,76.5 579.0,76.7 579.5,76.9 580.0,76.7 580.5,76.3 581.0,76.7 581.5,76.6 582.0,76.6 582.5,76.8 583.0,76.7 583.5,76.5 584.0,76.4 584.5,75.9 585.0,76.1 585.4,76.1 585.9,75.8 586.4,75.8 586.8,75.4 587.3,75.8 587.7,75.8 588.2,74.8 588.6,74.7 589.0,74.2 589.5,74.4 589.9,73.9 590.3,73.5 590.8,73.2 591.2,73.1 591.7,72.6 592.2,72.9 592.6,72.4 593.1,72.6 593.6,72.4 594.1,72.6 594.6,72.1 595.1,72.3 595.6,71.7 596.1,72.1 596.6,71.8 597.1,71.9 597.6,71.8 598.1,72.1 598.6,71.2 599.1,71.9 599.6,71.4 600.1,72.2 600.6,71.2 601.1,71.5 601.6,71.3 602.1,72.3 602.6,71.4 603.1,71.8 603.6,71.6" fill="none" stroke="#8b0000" stroke-width="4.1" stroke-linejoin="round" stroke-linecap="butt"/>
<path d="M301.6,218.5 302.6,219.1 303.4,219.7 303.8,220.2 304.6,220.8 304.9,221.3 305.6,221.9 306.1,222.4 306.8,223.0 307.8,223.6 308.0,224.1 308.5,224.7 308.9,225.3 309.4,225.8 310.5,226.4 310.4,227.0 311.0,227.6 311.8,228.1 312.2,228.7 313.4,229.3 312.9,229.9 314.1,230.5 314.7,231.1 314.8,231.7 315.5,232.3 316.3,232.9 317.1,233.5 317.0,234.1 317.4,234.7 318.6,235.3 319.2,235.9 319.3,236.6 319.3,237.2 320.7,237.8 320.7,238.5 321.5,239.1 321.7,239.8 322.1,240.4 322.5,241.1 323.4,241.8 323.9,242.4 323.4,243.1 324.2,243.8 325.3,244.5 325.1,245.2 325.3,245.9 326.0,246.6 326.4,247.4 326.8,248.1 327.0,248.8 327.4,249.5 327.6,250.3 328.1,251.0 328.0,251.7 328.4,252.5 328.6,253.3 329.2,254.0 329.2,254.8 329.2,255.6 329.6,256.4 329.7,257.1 330.0,257.9 330.1,258.7 330.5,259.5 330.6,260.3 330.4,261.1 330.4,261.9 330.8,262.7 330.9,263.5 330.8,264.3 330.6,265.1 330.6,265.9 331.3,266.7 331.5,267.5 331.6,268.3 331.2,269.1 331.8,269.9 331.5,270.7 331.8,271.5 331.9,272.3 331.7,273.1 331.8,273.9 331.5,274.7 331.9,275.5 331.7,276.3 332.4,277.1 332.4,277.9 332.7,278.7 332.7,279.5 332.6,280.3 332.9,281.1 332.9,281.9 333.4,282.7 333.5,283.4 333.3,284.2 333.8,285.0 334.0,285.8 334.1,286.5 334.7,287.3" fill="none" stroke="#8b0000" stroke-width="4.4" stroke-linejoin="round" stroke-linecap="butt"/>
<path d="M339.9,285.8 339.1,285.4 339.3,284.9 338.5,284.4 339.8,284.0 339.8,283.5 339.1,283.0 340.5,282.6 340.8,282.1 340.3,281.6 340.6,281.1 340.5,280.7 341.5,280.2 340.5,279.7 341.2,279.2 342.5,278.7 341.7,278.3 342.0,277.8 341.9,277.3 341.5,276.8 342.1,276.3 342.5,275.8 341.9,275.3 342.6,274.9 343.2,274.4 343.2,273.9 342.0,273.4 342.4,272.9 342.1,272.4 343.6,271.9 343.4,271.4 343.6,270.9 342.9,270.4 342.8,269.9 343.5,269.4 343.6,268.9 343.2,268.5 343.8,268.0 344.1,267.5 344.0,267.0 343.5,266.5 343.0,266.0 344.0,265.5 344.3,265.0 344.2,264.5 344.2,264.0 344.1,263.5 344.9,263.0 344.7,262.5 344.9,262.0 344.4,261.6 344.7,261.1 345.2,260.6 344.8,260.1 344.8,259.5 345.4,259.1 346.4,258.6 346.1,258.1 346.9,257.6 346.3,257.2 346.4,256.8 346.1,256.4" fill="none" stroke="#8b0000" stroke-width="5.6" stroke-linejoin="round" stroke-linecap="butt"/>
<path d="M343.0,271.6 343.1,272.1 343.2,271.1 343.3,270.8 343.4,270.3 343.5,269.4 343.6,268.8 343.7,268.5 343.7,268.3 343.8,267.7 343.9,267.2 344.0,266.5 344.1,265.6 344.1,265.3 344.2,264.5 344.3,265.0 344.4,262.9 344.5,263.4 344.6,264.2 344.7,262.4 344.8,261.5 344.9,261.5 345.0,261.7 345.2,260.5 345.3,260.4 345.5,259.6 345.6,258.9 345.8,260.1 346.0,258.1 346.2,257.4 346.4,257.0 346.6,257.0 346.8,256.6 347.1,256.4 347.4,255.8 347.8,254.7 348.2,255.3 348.6,254.6 349.1,254.3 349.5,253.4 350.0,253.6 350.4,253.2 350.8,253.3 351.2,252.4 351.7,252.9 352.1,252.7 352.6,251.8 353.0,251.9 353.5,251.5 353.9,252.2 354.4,250.3 354.8,251.2 355.3,250.3 355.8,250.7 356.3,251.2 356.7,250.3 357.2,250.5 357.7,249.8 358.1,251.1 358.6,250.4 359.1,250.3 359.5,248.9 360.0,248.9 360.5,249.8 361.0,249.1 361.5,248.9 361.9,249.0 362.4,248.1 362.9,249.0 363.4,248.5 363.9,248.6 364.4,247.9 364.9,248.3 365.3,247.6 365.8,248.3 366.3,248.3 366.8,248.1 367.3,247.8 367.8,247.7 368.3,246.0 368.8,247.6 369.3,247.0 369.7,247.1 370.2,246.8 370.7,246.2 371.2,246.5 371.7,247.0 372.2,247.3 372.7,246.2 373.2,246.0 373.7,247.1 374.2,245.9 374.7,247.3 375.2,246.2 375.7,245.7 376.2,246.6 376.7,246.8 377.2,245.2 377.7,246.6 378.2,245.7 378.7,246.5 379.2,245.5 379.7,244.8 380.2,245.8 380.7,245.9 381.1,246.4 381.6,246.2 382.1,245.6 382.6,245.1 383.1,244.9 383.6,244.9 384.1,244.6 384.6,244.8 385.1,243.6 385.6,244.9 386.1,244.7 386.6,246.0 387.1,245.0 387.6,244.3 388.1,244.8 388.6,243.8 389.1,244.1 389.6,243.4 390.1,245.0 390.6,244.5 391.1,243.6 391.6,244.1 392.1,244.5 392.6,244.2 393.1,244.1 393.6,243.4 394.1,243.5 394.6,243.8 395.1,244.1 395.6,243.2 396.1,243.0 396.6,244.1 397.1,243.0 397.5,243.9 398.0,243.5 398.5,243.7 399.0,244.1 399.5,243.5" fill="none" stroke="#8b0000" stroke-width="6.0" stroke-linejoin="round" stroke-linecap="butt"/>
<path d="M400.0,243.4 400.5,242.7 401.0,242.7 401.5,243.2 402.0,243.5 402.5,243.4 403.0,243.7 403.5,242.9 404.0,242.8 404.5,243.0 405.0,242.6 405.5,242.5 406.0,242.1 406.5,242.8 407.0,241.9 407.5,242.5 408.0,241.7 408.5,242.7 409.0,241.7 409.5,242.4 410.0,241.4 410.5,241.8 411.0,242.4 411.5,241.5 412.0,241.8 412.5,241.6 413.0,240.8 413.5,241.8 414.0,241.7 414.5,241.1 415.0,241.7 415.5,241.1 416.0,240.9 416.5,241.3 417.0,240.9 417.5,242.1 418.0,240.4 418.5,241.3 418.9,241.3 419.4,240.1 419.9,240.1 420.4,241.0 420.9,240.5 421.4,240.8 421.9,241.0 422.4,240.3 422.9,240.0 423.4,239.3 423.9,240.4 424.4,239.8 424.9,240.3 425.4,240.2 425.9,239.4 426.4,240.6 426.9,240.3 427.4,240.1 427.9,239.2 428.4,239.4 428.9,239.3 429.4,239.3 429.9,238.9 430.3,239.4 430.8,239.2 431.3,239.2 431.8,238.8 432.3,239.4 432.8,238.8 433.3,237.5 433.7,238.3 434.2,238.4 434.7,238.6 435.2,238.0 435.7,237.9 436.1,237.6 436.6,238.0 437.1,237.4 437.6,237.2 438.1,236.9 438.5,237.3 439.0,236.7 439.5,236.1 440.0,236.8" fill="none" stroke="#8b0000" stroke-width="5.2" stroke-linejoin="round" stroke-linecap="butt"/>
<path d="M440.4,236.2 440.9,236.4 441.4,236.2 441.9,236.3 442.3,236.1 442.8,235.4 443.3,235.4 443.8,234.9 444.2,235.6 444.7,235.1 445.2,235.2 445.7,234.5 446.1,233.8 446.6,234.8 447.1,234.2 447.6,234.0 448.0,233.8 448.5,233.8 449.0,233.6 449.5,232.8 449.9,233.5 450.4,232.8 450.9,232.7 451.3,233.2 451.8,232.8 452.3,232.2 452.8,231.6 453.2,232.0 453.7,232.0 454.2,231.6 454.6,231.1 455.1,231.0 455.6,230.7 456.0,231.0 456.5,231.0 457.0,230.9 457.4,230.2 457.9,230.3 458.4,230.2 458.9,229.7 459.3,229.7 459.8,230.2 460.3,229.4 460.9,229.5 461.4,228.9 461.9,228.9 462.4,228.2 462.9,228.6 463.4,228.8 463.9,228.9 464.4,228.4 464.8,228.0 465.3,227.6 465.7,227.2 466.1,227.1 466.4,227.1 466.8,226.4 467.1,226.6 467.4,225.6 467.6,225.0 467.9,224.7" fill="none" stroke="#8b0000" stroke-width="4.4" stroke-linejoin="round" stroke-linecap="butt"/>
<path d="M513.2,105.4 515.5,105.8 517.6,104.8" fill="none" stroke="#8b0000" stroke-width="5.0" stroke-linejoin="round" stroke-linecap="square"/>
<path d="M543.0,89.3 546.0,89.2" fill="none" stroke="#8b0000" stroke-width="2.6" stroke-linejoin="round" stroke-linecap="square"/>
<path d="M333.1,286.0 333.2,287.5 334.0,289.0 333.7,290.5 333.9,292.0 334.2,293.5 334.3,295.0 333.8,296.5 334.5,298.0 334.2,299.5 334.2,301.0 334.4,302.5 333.9,304.0 334.1,305.5 334.4,307.0 334.7,308.5 334.4,310.0 334.5,311.5 334.9,313.0 335.0,314.5 334.9,316.0 335.0,317.5 334.6,319.0 334.6,320.5 334.8,322.0 334.7,323.5 334.7,325.0 335.3,326.5 334.8,328.0 334.6,329.5 335.1,331.0 335.5,332.5 335.0,334.0 335.4,335.5 334.9,337.0 334.9,338.5 334.9,340.0 335.1,341.5 335.7,343.0 334.8,344.5 335.7,346.0 334.9,347.5 335.2,349.0 335.5,350.5 335.5,352.0 335.4,353.5 334.8,355.0 335.5,356.5 335.1,358.0 336.2,359.5 335.4,361.0 335.5,362.5 335.2,364.0 335.4,365.5 337.0,365.5 337.5,364.0 337.5,362.5 336.6,361.0 337.3,359.5 337.6,358.0 337.9,356.5 337.5,355.0 337.6,353.5 337.4,352.0 337.7,350.5 337.6,349.0 337.9,347.5 337.6,346.0 337.4,344.5 337.9,343.0 337.7,341.5 337.6,340.0 338.4,338.5 337.8,337.0 337.2,335.5 338.2,334.0 337.7,332.5 338.0,331.0 337.9,329.5 338.6,328.0 337.4,326.5 337.7,325.0 337.6,323.5 338.3,322.0 337.7,320.5 338.5,319.0 338.2,317.5 337.9,316.0 338.1,314.5 338.1,313.0 338.7,311.5 338.7,310.0 338.1,308.5 338.6,307.0 338.2,305.5 338.8,304.0 338.4,302.5 338.3,301.0 338.8,299.5 338.2,298.0 338.5,296.5 339.3,295.0 338.8,293.5 338.8,292.0 339.2,290.5 339.0,289.0 339.4,287.5 338.8,286.0Z" fill="#8b0000" stroke="none"/>
<path d="M336.2,360 L336.2,421.6" fill="none" stroke="#8b0000" stroke-width="1"/>
<rect x="334.7" y="376.5" width="3" height="3" fill="#8b0000"/>
<rect x="334.7" y="420.1" width="3" height="3" fill="#8b0000"/>
</g>
<g id="axes">
<rect x="99.2" y="10.2" width="560" height="450.1" fill="none" stroke="#000" stroke-width="4.1"/>
<line x1="99" y1="419.1" x2="107.9" y2="419.1" stroke="#000" stroke-width="3"/>
<line x1="99" y1="378.2" x2="107.9" y2="378.2" stroke="#000" stroke-width="3"/>
<line x1="99" y1="337.3" x2="107.9" y2="337.3" stroke="#000" stroke-width="3"/>
<line x1="99" y1="296.4" x2="107.9" y2="296.4" stroke="#000" stroke-width="3"/>
<line x1="99" y1="255.5" x2="107.9" y2="255.5" stroke="#000" stroke-width="3"/>
<line x1="99" y1="214.5" x2="107.9" y2="214.5" stroke="#000" stroke-width="3"/>
<line x1="99" y1="173.6" x2="107.9" y2="173.6" stroke="#000" stroke-width="3"/>
<line x1="99" y1="132.7" x2="107.9" y2="132.7" stroke="#000" stroke-width="3"/>
<line x1="99" y1="91.8" x2="107.9" y2="91.8" stroke="#000" stroke-width="3"/>
<line x1="99" y1="50.9" x2="107.9" y2="50.9" stroke="#000" stroke-width="3"/>
<line x1="192.3" y1="460" x2="192.3" y2="451.6" stroke="#000" stroke-width="3"/>
<line x1="379.0" y1="460" x2="379.0" y2="451.6" stroke="#000" stroke-width="3"/>
<line x1="565.7" y1="460" x2="565.7" y2="451.6" stroke="#000" stroke-width="3"/>
<line x1="285.7" y1="460" x2="285.7" y2="456.1" stroke="#000" stroke-width="3"/>
<line x1="472.3" y1="460" x2="472.3" y2="456.1" stroke="#000" stroke-width="3"/>
</g>
<g id="labels">
<text x="90" y="99.1" text-anchor="end" font-size="19.5" font-weight="bold">10<tspan dy="-9" font-size="12.5">-3</tspan></text>
<text x="90" y="221.8" text-anchor="end" font-size="19.5" font-weight="bold">10<tspan dy="-9" font-size="12.5">-6</tspan></text>
<text x="90" y="344.6" text-anchor="end" font-size="19.5" font-weight="bold">10<tspan dy="-9" font-size="12.5">-9</tspan></text>
<text x="90" y="467.3" text-anchor="end" font-size="19.5" font-weight="bold">10<tspan dy="-9" font-size="12.5">-12</tspan></text>
<text x="192.3" y="484" text-anchor="middle" font-size="19" font-weight="bold">-0.5</text>
<text x="379.0" y="484" text-anchor="middle" font-size="19" font-weight="bold">0.0</text>
<text x="565.7" y="484" text-anchor="middle" font-size="19" font-weight="bold">0.5</text>
<text x="383" y="522" text-anchor="middle" font-size="38" font-weight="bold">E / V</text>
<text transform="translate(41.6,235) rotate(-90)" text-anchor="middle" font-size="39" font-weight="bold">log i / A cm<tspan dy="-16" font-size="26">-2</tspan></text>
</g>
<g id="legend">
<line x1="367.8" y1="370.7" x2="385.7" y2="370.7" stroke="#009600" stroke-width="1.8"/>
<line x1="399.8" y1="370.7" x2="416" y2="370.7" stroke="#009600" stroke-width="1.8"/>
<rect x="389.6" y="367.7" width="6" height="6" fill="#009600"/>
<text x="422.5" y="377.8" font-size="21" font-weight="bold">Weld</text>
<line x1="367.8" y1="397.6" x2="385.7" y2="397.6" stroke="#0000a0" stroke-width="1.8"/>
<line x1="399.8" y1="397.6" x2="416" y2="397.6" stroke="#0000a0" stroke-width="1.8"/>
<rect x="389.6" y="394.6" width="6" height="6" fill="#0000a0"/>
<text x="422.5" y="404.7" font-size="21" font-weight="bold">Anodized</text>
<line x1="367.8" y1="424.6" x2="385.7" y2="424.6" stroke="#8b0000" stroke-width="1.8"/>
<line x1="399.8" y1="424.6" x2="416" y2="424.6" stroke="#8b0000" stroke-width="1.8"/>
<rect x="389.6" y="421.6" width="6" height="6" fill="#8b0000"/>
<text x="422.5" y="431.7" font-size="21" font-weight="bold">Heat treated anodized</text>
</g>
</svg>
</body></html>
